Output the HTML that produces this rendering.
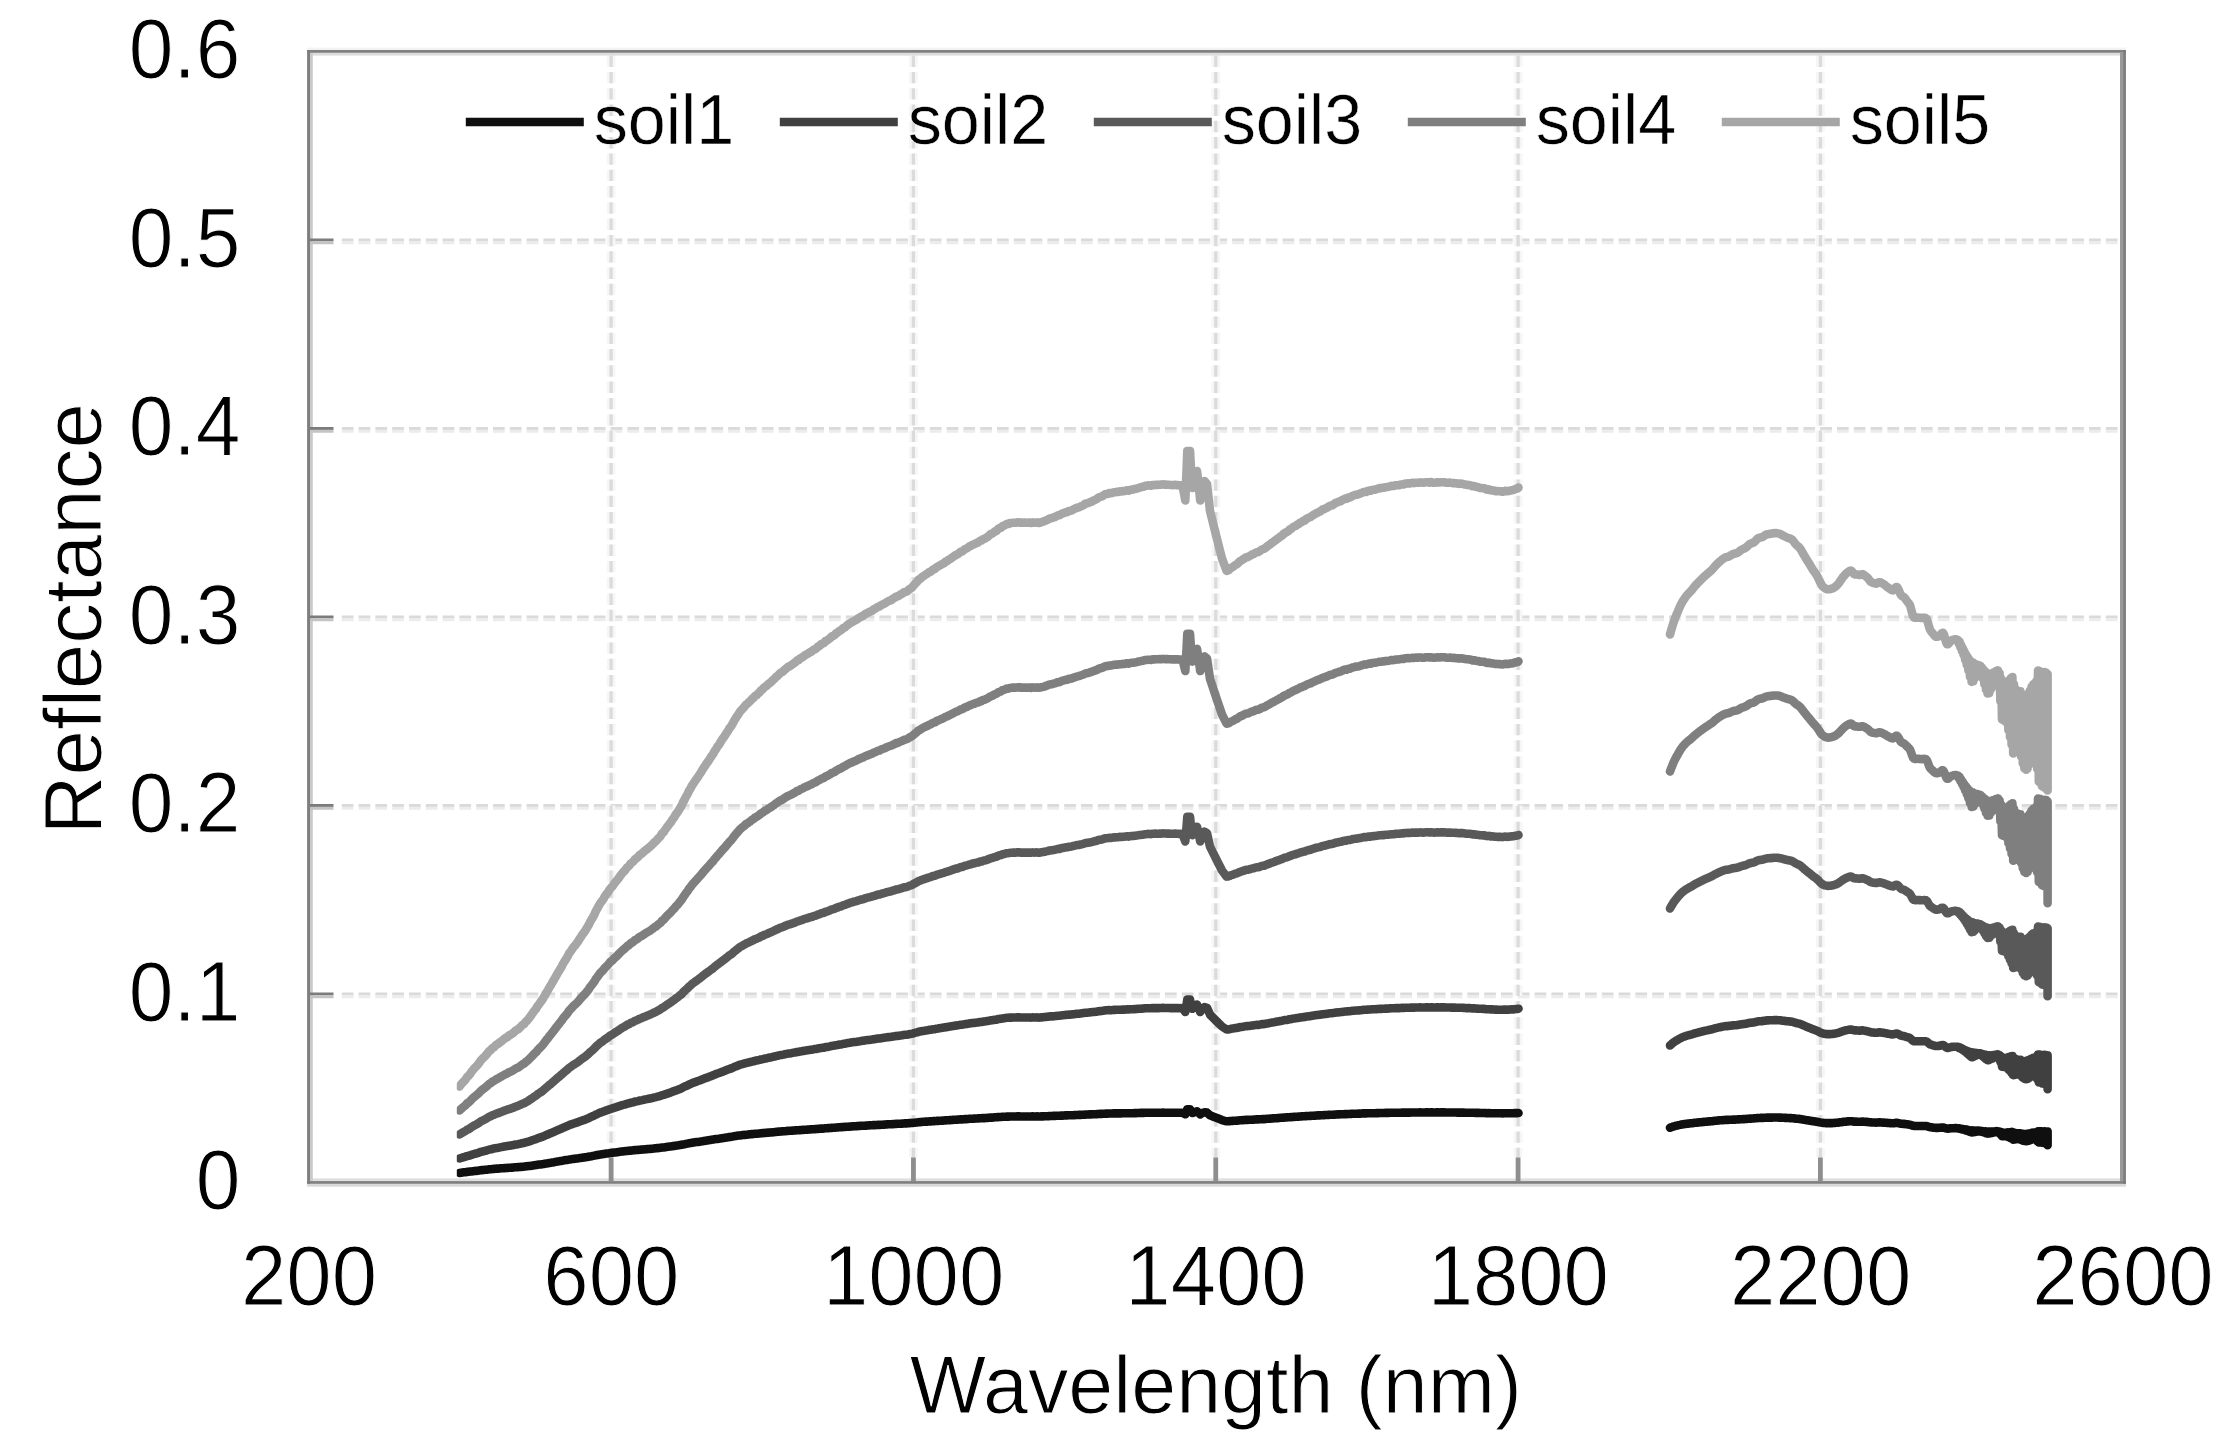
<!DOCTYPE html>
<html lang="en">
<head>
<meta charset="utf-8">
<title>Soil reflectance spectra</title>
<style>
html,body{margin:0;padding:0;background:#fff;}
body{width:2234px;height:1449px;overflow:hidden;}
svg{display:block;}
</style>
</head>
<body>
<svg width="2234" height="1449" viewBox="0 0 2234 1449">
<rect width="2234" height="1449" fill="#fff"/>
<g fill="none" stroke-dasharray="11.7 5.1">
<path d="M341.8 993.95H2120.0" stroke="#dadada" stroke-width="2.9"/>
<path d="M341.8 996.80H2120.0" stroke="#ececec" stroke-width="2.9"/>
<path d="M341.8 805.45H2120.0" stroke="#dadada" stroke-width="2.9"/>
<path d="M341.8 808.30H2120.0" stroke="#ececec" stroke-width="2.9"/>
<path d="M341.8 616.95H2120.0" stroke="#dadada" stroke-width="2.9"/>
<path d="M341.8 619.80H2120.0" stroke="#ececec" stroke-width="2.9"/>
<path d="M341.8 428.45H2120.0" stroke="#dadada" stroke-width="2.9"/>
<path d="M341.8 431.30H2120.0" stroke="#ececec" stroke-width="2.9"/>
<path d="M341.8 239.95H2120.0" stroke="#dadada" stroke-width="2.9"/>
<path d="M341.8 242.80H2120.0" stroke="#ececec" stroke-width="2.9"/>
</g>
<g fill="none" stroke-dasharray="11.4 4.9">
<path d="M611.1 55.6V1157.5" stroke="#f6f6f6" stroke-width="8.6"/>
<path d="M611.1 55.6V1157.5" stroke="#dbdbdb" stroke-width="3.3"/>
<path d="M913.4 55.6V1157.5" stroke="#f6f6f6" stroke-width="8.6"/>
<path d="M913.4 55.6V1157.5" stroke="#dbdbdb" stroke-width="3.3"/>
<path d="M1215.8 55.6V1157.5" stroke="#f6f6f6" stroke-width="8.6"/>
<path d="M1215.8 55.6V1157.5" stroke="#dbdbdb" stroke-width="3.3"/>
<path d="M1518.1 55.6V1157.5" stroke="#f6f6f6" stroke-width="8.6"/>
<path d="M1518.1 55.6V1157.5" stroke="#dbdbdb" stroke-width="3.3"/>
<path d="M1820.4 55.6V1157.5" stroke="#f6f6f6" stroke-width="8.6"/>
<path d="M1820.4 55.6V1157.5" stroke="#dbdbdb" stroke-width="3.3"/>
</g>
<clipPath id="dataclip"><rect x="456.8" y="40" width="1640" height="1150"/></clipPath>
<g fill="none" stroke-width="8.6" stroke-linejoin="round" stroke-linecap="round" clip-path="url(#dataclip)">
<path stroke="#0f0f0f" d="M459.5,1172.9 461.0,1172.7 462.5,1172.5 464.0,1172.3 465.5,1172.2 467.0,1171.9 468.5,1171.8 470.0,1171.6 471.5,1171.4 473.0,1171.2 474.5,1171.0 476.0,1170.9 477.5,1170.7 479.0,1170.5 480.5,1170.3 482.0,1170.1 483.5,1170.0 485.0,1169.8 486.5,1169.7 488.0,1169.5 489.5,1169.3 491.0,1169.2 492.5,1169.0 494.0,1168.9 495.5,1168.8 497.0,1168.6 498.5,1168.6 500.0,1168.4 501.5,1168.3 503.0,1168.2 504.5,1168.1 506.0,1168.0 507.5,1167.9 509.0,1167.7 510.5,1167.7 512.0,1167.6 513.5,1167.5 515.0,1167.3 516.5,1167.2 518.0,1167.1 519.5,1167.0 521.0,1166.9 522.5,1166.7 524.0,1166.6 525.5,1166.4 527.0,1166.3 528.5,1166.1 530.0,1165.9 531.5,1165.7 533.0,1165.5 534.5,1165.3 536.0,1165.1 537.5,1164.8 539.0,1164.6 540.5,1164.4 542.0,1164.2 543.5,1164.0 545.0,1163.7 546.5,1163.4 548.0,1163.2 549.5,1162.9 551.0,1162.7 552.5,1162.4 554.0,1162.2 555.5,1161.9 557.0,1161.6 558.5,1161.4 560.0,1161.1 561.5,1160.9 563.0,1160.6 564.5,1160.3 566.0,1160.1 567.5,1159.9 569.0,1159.6 570.5,1159.4 572.0,1159.1 573.5,1158.9 575.0,1158.8 576.5,1158.6 578.0,1158.4 579.5,1158.1 581.0,1157.9 582.5,1157.6 584.0,1157.5 585.5,1157.2 587.0,1157.0 588.5,1156.7 590.0,1156.4 591.5,1156.2 593.0,1155.9 594.5,1155.6 596.0,1155.3 597.5,1155.0 599.0,1154.7 600.5,1154.5 602.0,1154.3 603.5,1154.1 605.0,1153.8 606.5,1153.6 608.0,1153.4 609.5,1153.2 611.0,1153.0 612.5,1152.8 614.0,1152.6 615.5,1152.4 617.0,1152.2 618.5,1152.0 620.0,1151.8 621.5,1151.6 623.0,1151.4 624.5,1151.3 626.0,1151.1 627.5,1150.9 629.0,1150.8 630.5,1150.6 632.0,1150.5 633.5,1150.3 635.0,1150.1 636.5,1150.0 638.0,1149.9 639.5,1149.7 641.0,1149.6 642.5,1149.5 644.0,1149.4 645.5,1149.2 647.0,1149.1 648.5,1149.0 650.0,1148.9 651.5,1148.7 653.0,1148.6 654.5,1148.4 656.0,1148.3 657.5,1148.1 659.0,1148.0 660.5,1147.8 662.0,1147.6 663.5,1147.4 665.0,1147.2 666.5,1147.0 668.0,1146.8 669.5,1146.6 671.0,1146.4 672.5,1146.1 674.0,1146.0 675.5,1145.7 677.0,1145.5 678.5,1145.3 680.0,1145.0 681.5,1144.8 683.0,1144.4 684.5,1144.2 686.0,1143.9 687.5,1143.6 689.0,1143.3 690.5,1143.1 692.0,1142.8 693.5,1142.5 695.0,1142.3 696.5,1142.1 698.0,1141.9 699.5,1141.7 701.0,1141.4 702.5,1141.2 704.0,1140.9 705.5,1140.7 707.0,1140.5 708.5,1140.3 710.0,1140.1 711.5,1139.8 713.0,1139.6 714.5,1139.3 716.0,1139.1 717.5,1138.9 719.0,1138.7 720.5,1138.4 722.0,1138.2 723.5,1138.0 725.0,1137.8 726.5,1137.5 728.0,1137.3 729.5,1137.0 731.0,1136.9 732.5,1136.6 734.0,1136.3 735.5,1136.1 737.0,1135.8 738.5,1135.6 740.0,1135.4 741.5,1135.2 743.0,1135.0 744.5,1134.9 746.0,1134.7 747.5,1134.6 749.0,1134.4 750.5,1134.3 752.0,1134.1 753.5,1134.0 755.0,1133.8 756.5,1133.7 758.0,1133.6 759.5,1133.4 761.0,1133.2 762.5,1133.1 764.0,1133.0 765.5,1132.9 767.0,1132.8 768.5,1132.6 770.0,1132.5 771.5,1132.4 773.0,1132.2 774.5,1132.1 776.0,1131.9 777.5,1131.8 779.0,1131.6 780.5,1131.5 782.0,1131.4 783.5,1131.3 785.0,1131.2 786.5,1131.0 788.0,1130.9 789.5,1130.8 791.0,1130.7 792.5,1130.6 794.0,1130.5 795.5,1130.4 797.0,1130.3 798.5,1130.2 800.0,1130.1 801.5,1130.0 803.0,1129.9 804.5,1129.8 806.0,1129.7 807.5,1129.6 809.0,1129.5 810.5,1129.4 812.0,1129.3 813.5,1129.2 815.0,1129.1 816.5,1129.0 818.0,1128.9 819.5,1128.8 821.0,1128.6 822.5,1128.6 824.0,1128.5 825.5,1128.3 827.0,1128.3 828.5,1128.1 830.0,1128.0 831.5,1127.9 833.0,1127.8 834.5,1127.7 836.0,1127.5 837.5,1127.5 839.0,1127.3 840.5,1127.3 842.0,1127.1 843.5,1127.0 845.0,1126.9 846.5,1126.8 848.0,1126.7 849.5,1126.6 851.0,1126.5 852.5,1126.4 854.0,1126.3 855.5,1126.2 857.0,1126.1 858.5,1126.0 860.0,1125.9 861.5,1125.8 863.0,1125.8 864.5,1125.7 866.0,1125.6 867.5,1125.5 869.0,1125.4 870.5,1125.3 872.0,1125.3 873.5,1125.1 875.0,1125.1 876.5,1125.0 878.0,1124.9 879.5,1124.9 881.0,1124.7 882.5,1124.7 884.0,1124.6 885.5,1124.5 887.0,1124.4 888.5,1124.3 890.0,1124.3 891.5,1124.2 893.0,1124.1 894.5,1124.0 896.0,1123.9 897.5,1123.8 899.0,1123.8 900.5,1123.7 902.0,1123.6 903.5,1123.5 905.0,1123.4 906.5,1123.4 908.0,1123.3 909.5,1123.1 911.0,1123.0 912.5,1122.9 914.0,1122.7 915.5,1122.6 917.0,1122.4 918.5,1122.2 920.0,1122.1 921.5,1122.0 923.0,1121.8 924.5,1121.8 926.0,1121.6 927.5,1121.6 929.0,1121.4 930.5,1121.4 932.0,1121.2 933.5,1121.1 935.0,1121.1 936.5,1120.9 938.0,1120.9 939.5,1120.8 941.0,1120.7 942.5,1120.6 944.0,1120.5 945.5,1120.4 947.0,1120.3 948.5,1120.2 950.0,1120.1 951.5,1120.0 953.0,1119.9 954.5,1119.8 956.0,1119.7 957.5,1119.6 959.0,1119.5 960.5,1119.4 962.0,1119.4 963.5,1119.2 965.0,1119.1 966.5,1119.1 968.0,1119.0 969.5,1118.8 971.0,1118.8 972.5,1118.7 974.0,1118.6 975.5,1118.5 977.0,1118.5 978.5,1118.4 980.0,1118.3 981.5,1118.3 983.0,1118.1 984.5,1118.1 986.0,1118.0 987.5,1117.9 989.0,1117.8 990.5,1117.6 992.0,1117.6 993.5,1117.5 995.0,1117.3 996.5,1117.3 998.0,1117.1 999.5,1117.0 1001.0,1117.0 1002.5,1116.8 1004.0,1116.8 1005.5,1116.7 1007.0,1116.6 1008.5,1116.6 1010.0,1116.5 1011.5,1116.5 1013.0,1116.5 1014.5,1116.5 1016.0,1116.5 1017.5,1116.4 1019.0,1116.4 1020.5,1116.5 1022.0,1116.5 1023.5,1116.5 1025.0,1116.5 1026.5,1116.5 1028.0,1116.5 1029.5,1116.5 1031.0,1116.5 1032.5,1116.4 1034.0,1116.5 1035.5,1116.5 1037.0,1116.4 1038.5,1116.5 1040.0,1116.5 1041.5,1116.4 1043.0,1116.4 1044.5,1116.3 1046.0,1116.2 1047.5,1116.2 1049.0,1116.1 1050.5,1116.0 1052.0,1116.0 1053.5,1115.9 1055.0,1115.9 1056.5,1115.8 1058.0,1115.7 1059.5,1115.7 1061.0,1115.6 1062.5,1115.6 1064.0,1115.5 1065.5,1115.4 1067.0,1115.4 1068.5,1115.3 1070.0,1115.3 1071.5,1115.3 1073.0,1115.2 1074.5,1115.1 1076.0,1115.0 1077.5,1115.0 1079.0,1114.9 1080.5,1114.9 1082.0,1114.8 1083.5,1114.7 1085.0,1114.6 1086.5,1114.5 1088.0,1114.5 1089.5,1114.4 1091.0,1114.4 1092.5,1114.3 1094.0,1114.2 1095.5,1114.2 1097.0,1114.1 1098.5,1114.0 1100.0,1113.9 1101.5,1113.9 1103.0,1113.8 1104.5,1113.7 1106.0,1113.6 1107.5,1113.6 1109.0,1113.5 1110.5,1113.5 1112.0,1113.5 1113.5,1113.4 1115.0,1113.4 1116.5,1113.4 1118.0,1113.4 1119.5,1113.3 1121.0,1113.4 1122.5,1113.3 1124.0,1113.3 1125.5,1113.3 1127.0,1113.2 1128.5,1113.3 1130.0,1113.2 1131.5,1113.2 1133.0,1113.2 1134.5,1113.1 1136.0,1113.1 1137.5,1113.0 1139.0,1113.0 1140.5,1112.9 1142.0,1112.9 1143.5,1112.9 1145.0,1112.8 1146.5,1112.8 1148.0,1112.7 1149.5,1112.8 1151.0,1112.8 1152.5,1112.7 1154.0,1112.7 1155.5,1112.7 1157.0,1112.7 1158.5,1112.7 1160.0,1112.7 1161.5,1112.7 1163.0,1112.6 1164.5,1112.7 1166.0,1112.7 1167.5,1112.7 1169.0,1112.7 1170.5,1112.7 1172.0,1112.7 1173.5,1112.7 1175.0,1112.7 1176.5,1112.7 1178.0,1112.7 1179.5,1112.8 1181.0,1112.7 1183.0,1113.0 1185.3,1114.3 1186.6,1111.2 1187.3,1109.3 1190.0,1109.3 1191.0,1111.2 1192.5,1113.0 1194.5,1112.2 1197.0,1111.3 1198.8,1112.8 1200.2,1114.3 1202.2,1113.0 1204.5,1112.3 1207.0,1112.6 1208.8,1114.2 1210.0,1115.3 1213.5,1116.7 1217.0,1118.1 1222.0,1120.1 1226.6,1121.3 1228.1,1121.2 1229.6,1121.1 1231.1,1121.0 1232.6,1120.9 1234.1,1120.8 1235.6,1120.7 1237.1,1120.6 1238.6,1120.5 1240.1,1120.3 1241.6,1120.2 1243.1,1120.1 1244.6,1120.0 1246.1,1119.9 1247.6,1119.9 1249.1,1119.8 1250.6,1119.8 1252.1,1119.7 1253.6,1119.6 1255.1,1119.5 1256.6,1119.4 1258.1,1119.4 1259.6,1119.3 1261.1,1119.2 1262.6,1119.1 1264.1,1119.1 1265.6,1119.0 1267.1,1118.8 1268.6,1118.7 1270.1,1118.6 1271.6,1118.5 1273.1,1118.4 1274.6,1118.3 1276.1,1118.2 1277.6,1118.1 1279.1,1118.0 1280.6,1117.8 1282.1,1117.8 1283.6,1117.6 1285.1,1117.5 1286.6,1117.4 1288.1,1117.3 1289.6,1117.2 1291.1,1117.1 1292.6,1117.0 1294.1,1116.9 1295.6,1116.8 1297.1,1116.7 1298.6,1116.6 1300.1,1116.5 1301.6,1116.4 1303.1,1116.3 1304.6,1116.3 1306.1,1116.1 1307.6,1116.0 1309.1,1116.0 1310.6,1115.9 1312.1,1115.8 1313.6,1115.7 1315.1,1115.6 1316.6,1115.5 1318.1,1115.4 1319.6,1115.4 1321.1,1115.3 1322.6,1115.2 1324.1,1115.1 1325.6,1115.0 1327.1,1115.0 1328.6,1114.9 1330.1,1114.8 1331.6,1114.8 1333.1,1114.7 1334.6,1114.6 1336.1,1114.5 1337.6,1114.4 1339.1,1114.4 1340.6,1114.3 1342.1,1114.2 1343.6,1114.2 1345.1,1114.1 1346.6,1114.1 1348.1,1114.0 1349.6,1114.0 1351.1,1113.9 1352.6,1113.8 1354.1,1113.7 1355.6,1113.7 1357.1,1113.7 1358.6,1113.6 1360.1,1113.6 1361.6,1113.5 1363.1,1113.4 1364.6,1113.4 1366.1,1113.4 1367.6,1113.3 1369.1,1113.3 1370.6,1113.3 1372.1,1113.2 1373.6,1113.2 1375.1,1113.2 1376.6,1113.1 1378.1,1113.1 1379.6,1113.0 1381.1,1113.0 1382.6,1113.0 1384.1,1113.0 1385.6,1112.9 1387.1,1112.9 1388.6,1112.9 1390.1,1112.8 1391.6,1112.8 1393.1,1112.8 1394.6,1112.8 1396.1,1112.7 1397.6,1112.7 1399.1,1112.7 1400.6,1112.7 1402.1,1112.6 1403.6,1112.6 1405.1,1112.6 1406.6,1112.6 1408.1,1112.5 1409.6,1112.6 1411.1,1112.5 1412.6,1112.5 1414.1,1112.5 1415.6,1112.5 1417.1,1112.5 1418.6,1112.5 1420.1,1112.4 1421.6,1112.5 1423.1,1112.5 1424.6,1112.5 1426.1,1112.4 1427.6,1112.4 1429.1,1112.5 1430.6,1112.4 1432.1,1112.4 1433.6,1112.5 1435.1,1112.5 1436.6,1112.4 1438.1,1112.4 1439.6,1112.5 1441.1,1112.4 1442.6,1112.4 1444.1,1112.4 1445.6,1112.5 1447.1,1112.5 1448.6,1112.5 1450.1,1112.5 1451.6,1112.5 1453.1,1112.5 1454.6,1112.5 1456.1,1112.5 1457.6,1112.6 1459.1,1112.6 1460.6,1112.6 1462.1,1112.6 1463.6,1112.6 1465.1,1112.7 1466.6,1112.7 1468.1,1112.7 1469.6,1112.7 1471.1,1112.8 1472.6,1112.8 1474.1,1112.8 1475.6,1112.9 1477.1,1112.9 1478.6,1112.9 1480.1,1113.0 1481.6,1113.0 1483.1,1113.0 1484.6,1113.0 1486.1,1113.1 1487.6,1113.2 1489.1,1113.1 1490.6,1113.2 1492.1,1113.2 1493.6,1113.3 1495.1,1113.3 1496.6,1113.3 1498.1,1113.3 1499.6,1113.3 1501.1,1113.3 1502.6,1113.4 1504.1,1113.3 1505.6,1113.3 1507.1,1113.3 1508.6,1113.3 1510.1,1113.3 1511.6,1113.2 1513.1,1113.2 1514.6,1113.1 1516.1,1113.1 1517.6,1113.1 1518.5,1113.0"/>
<path stroke="#0f0f0f" d="M1670.0,1127.7 1671.0,1127.3 1672.0,1127.0 1673.0,1126.6 1674.0,1126.3 1675.0,1126.0 1676.0,1125.8 1677.0,1125.6 1678.0,1125.3 1679.0,1125.1 1680.0,1124.9 1681.0,1124.6 1682.0,1124.5 1683.0,1124.3 1684.0,1124.1 1685.0,1124.0 1686.0,1123.9 1687.0,1123.7 1688.0,1123.6 1689.0,1123.5 1690.0,1123.4 1691.0,1123.3 1692.0,1123.2 1693.0,1123.1 1694.0,1122.9 1695.0,1122.8 1696.0,1122.7 1697.0,1122.6 1698.0,1122.5 1699.0,1122.4 1700.0,1122.3 1701.0,1122.2 1702.0,1122.1 1703.0,1122.0 1704.0,1121.9 1705.0,1121.8 1706.0,1121.7 1707.0,1121.6 1708.0,1121.5 1709.0,1121.4 1710.0,1121.4 1711.0,1121.3 1712.0,1121.2 1713.0,1121.1 1714.0,1120.9 1715.0,1120.8 1716.0,1120.7 1717.0,1120.6 1718.0,1120.5 1719.0,1120.4 1720.0,1120.3 1721.0,1120.3 1722.0,1120.2 1723.0,1120.1 1724.0,1120.0 1725.0,1120.0 1726.0,1119.9 1727.0,1119.9 1728.0,1119.9 1729.0,1119.8 1730.0,1119.8 1731.0,1119.7 1732.0,1119.7 1733.0,1119.6 1734.0,1119.6 1735.0,1119.6 1736.0,1119.5 1737.0,1119.5 1738.0,1119.4 1739.0,1119.4 1740.0,1119.3 1741.0,1119.2 1742.0,1119.2 1743.0,1119.1 1744.0,1119.1 1745.0,1119.0 1746.0,1119.0 1747.0,1118.9 1748.0,1118.8 1749.0,1118.7 1750.0,1118.6 1751.0,1118.6 1752.0,1118.5 1753.0,1118.5 1754.0,1118.4 1755.0,1118.3 1756.0,1118.2 1757.0,1118.1 1758.0,1118.0 1759.0,1118.0 1760.0,1118.0 1761.0,1117.9 1762.0,1117.9 1763.0,1117.9 1764.0,1117.8 1765.0,1117.7 1766.0,1117.7 1767.0,1117.6 1768.0,1117.6 1769.0,1117.6 1770.0,1117.6 1771.0,1117.6 1772.0,1117.6 1773.0,1117.5 1774.0,1117.5 1775.0,1117.5 1776.0,1117.5 1777.0,1117.5 1778.0,1117.5 1779.0,1117.6 1780.0,1117.6 1781.0,1117.6 1782.0,1117.7 1783.0,1117.8 1784.0,1117.8 1785.0,1117.9 1786.0,1117.9 1787.0,1118.0 1788.0,1118.0 1789.0,1118.0 1790.0,1118.1 1791.0,1118.1 1792.0,1118.2 1793.0,1118.3 1794.0,1118.4 1795.0,1118.5 1796.0,1118.7 1797.0,1118.8 1798.0,1118.8 1799.0,1118.9 1800.0,1119.0 1801.0,1119.2 1802.0,1119.4 1803.0,1119.5 1804.0,1119.7 1805.0,1119.9 1806.0,1120.1 1807.0,1120.2 1808.0,1120.4 1809.0,1120.5 1810.0,1120.7 1811.0,1120.9 1812.0,1121.0 1813.0,1121.2 1814.0,1121.3 1815.0,1121.5 1816.0,1121.6 1817.0,1121.8 1818.0,1122.0 1819.0,1122.2 1820.0,1122.4 1821.0,1122.6 1822.0,1122.8 1823.0,1122.9 1824.0,1123.0 1825.0,1123.0 1826.0,1123.1 1827.0,1123.1 1828.0,1123.1 1829.0,1123.1 1830.0,1123.1 1831.0,1123.1 1832.0,1123.1 1833.0,1123.0 1834.0,1123.0 1835.0,1122.9 1836.0,1122.8 1837.0,1122.7 1838.0,1122.6 1839.0,1122.5 1840.0,1122.3 1841.0,1122.2 1842.0,1122.1 1843.0,1121.9 1844.0,1121.8 1845.0,1121.7 1846.0,1121.6 1847.0,1121.5 1848.0,1121.4 1849.0,1121.3 1850.0,1121.3 1851.0,1121.3 1852.0,1121.3 1853.0,1121.5 1854.0,1121.6 1855.0,1121.6 1856.0,1121.6 1857.0,1121.7 1858.0,1121.7 1859.0,1121.7 1860.0,1121.7 1861.0,1121.7 1862.0,1121.6 1863.0,1121.6 1864.0,1121.7 1865.0,1121.8 1866.0,1121.9 1867.0,1121.9 1868.0,1122.0 1869.0,1122.2 1870.0,1122.3 1871.0,1122.4 1872.0,1122.5 1873.0,1122.5 1874.0,1122.5 1875.0,1122.5 1876.0,1122.6 1877.0,1122.5 1878.0,1122.5 1879.0,1122.4 1880.0,1122.4 1881.0,1122.5 1882.0,1122.5 1883.0,1122.6 1884.0,1122.6 1885.0,1122.7 1886.0,1122.8 1887.0,1122.9 1888.0,1123.0 1889.0,1123.0 1890.0,1123.1 1891.0,1123.2 1892.0,1123.2 1893.0,1123.2 1894.0,1123.2 1895.0,1123.0 1896.0,1122.9 1897.0,1122.9 1898.0,1123.0 1899.0,1123.3 1900.0,1123.5 1901.0,1123.7 1902.0,1123.8 1903.0,1123.9 1904.0,1123.9 1905.0,1124.0 1906.0,1124.2 1907.0,1124.3 1908.0,1124.4 1909.0,1124.6 1910.0,1124.7 1911.0,1125.1 1912.0,1125.5 1913.0,1125.8 1914.0,1125.9 1915.0,1126.0 1916.0,1126.0 1917.0,1126.0 1918.0,1126.0 1919.0,1126.0 1920.0,1126.0 1921.0,1126.0 1922.0,1126.0 1923.0,1126.0 1924.0,1126.0 1925.0,1126.0 1926.0,1126.0 1927.0,1126.2 1928.0,1126.5 1929.0,1126.9 1930.0,1127.2 1931.0,1127.3 1932.0,1127.4 1933.0,1127.6 1934.0,1127.7 1935.0,1127.8 1936.0,1127.9 1937.0,1127.9 1938.0,1127.9 1939.0,1127.8 1940.0,1127.7 1941.0,1127.6 1942.0,1127.5 1943.0,1127.5 1944.0,1127.7 1945.0,1128.0 1946.0,1128.4 1947.0,1128.6 1948.0,1128.6 1949.0,1128.5 1950.0,1128.4 1951.0,1128.3 1952.0,1128.2 1953.0,1128.2 1954.0,1128.2 1955.0,1128.1 1956.0,1128.1 1957.0,1128.2 1958.0,1128.2 1958.8,1128.6 1959.6,1128.4 1960.4,1128.9 1961.2,1128.7 1962.0,1129.3 1962.8,1129.0 1963.6,1129.7 1964.4,1129.4 1965.2,1130.2 1966.0,1129.6 1966.8,1130.7 1967.6,1129.9 1968.4,1131.3 1969.2,1130.2 1970.0,1131.9 1970.8,1130.4 1971.6,1132.4 1972.4,1130.4 1973.2,1132.3 1974.0,1130.6 1974.8,1132.0 1975.6,1130.6 1976.4,1131.6 1977.2,1130.7 1978.0,1131.4 1978.8,1130.7 1979.6,1131.2 1980.4,1130.8 1981.2,1131.6 1982.0,1131.0 1982.8,1132.1 1983.6,1131.2 1984.4,1132.6 1985.2,1131.4 1986.0,1133.2 1986.8,1131.5 1987.6,1133.6 1988.4,1131.6 1989.2,1133.5 1990.0,1131.7 1990.8,1133.1 1991.6,1131.6 1992.4,1132.9 1993.2,1131.5 1994.0,1132.5 1994.8,1131.4 1995.6,1132.2 1996.4,1131.3 1997.2,1131.9 1998.0,1131.2 1998.8,1132.9 1999.6,1131.5 2000.4,1134.3 2001.2,1132.1 2002.0,1136.1 2002.8,1132.6 2003.6,1136.2 2004.4,1132.8 2005.2,1136.1 2006.0,1132.7 2006.8,1136.5 2007.6,1132.4 2008.4,1137.2 2009.2,1132.2 2010.0,1137.9 2010.8,1132.0 2011.6,1138.7 2012.4,1131.9 2013.2,1139.6 2014.0,1132.7 2014.8,1139.4 2015.6,1133.1 2016.4,1139.2 2017.2,1133.3 2018.0,1139.0 2018.8,1133.3 2019.6,1139.4 2020.4,1133.3 2021.2,1139.9 2022.0,1133.8 2022.8,1140.6 2023.6,1134.0 2024.4,1141.0 2025.2,1134.0 2026.0,1141.2 2026.8,1133.7 2027.6,1141.0 2028.4,1133.5 2029.2,1140.6 2030.0,1133.2 2030.8,1140.0 2031.6,1132.9 2032.4,1139.2 2033.2,1132.6 2034.0,1138.5 2034.8,1132.6 2035.6,1138.8 2036.4,1132.3 2037.2,1141.1 2038.0,1131.3 2038.8,1142.4 2039.6,1131.3 2040.4,1142.5 2041.2,1131.4 2042.0,1142.8 2042.8,1131.6 2043.6,1142.9 2044.4,1131.4 2045.2,1142.8 2046.0,1131.5 2046.8,1143.2 2047.6,1131.6 2047.6,1145.2"/>
<path stroke="#404040" d="M459.5,1158.5 461.0,1158.0 462.5,1157.5 464.0,1157.1 465.5,1156.7 467.0,1156.1 468.5,1155.8 470.0,1155.4 471.5,1154.8 473.0,1154.3 474.5,1153.9 476.0,1153.5 477.5,1153.1 479.0,1152.6 480.5,1152.0 482.0,1151.6 483.5,1151.3 485.0,1150.9 486.5,1150.5 488.0,1150.0 489.5,1149.5 491.0,1149.3 492.5,1148.8 494.0,1148.6 495.5,1148.2 497.0,1147.9 498.5,1147.7 500.0,1147.4 501.5,1147.1 503.0,1146.8 504.5,1146.5 506.0,1146.3 507.5,1146.1 509.0,1145.7 510.5,1145.6 512.0,1145.3 513.5,1145.0 515.0,1144.6 516.5,1144.4 518.0,1144.2 519.5,1143.8 521.0,1143.5 522.5,1143.1 524.0,1142.9 525.5,1142.4 527.0,1142.0 528.5,1141.6 530.0,1141.1 531.5,1140.6 533.0,1140.0 534.5,1139.5 536.0,1139.1 537.5,1138.4 539.0,1137.9 540.5,1137.4 542.0,1136.9 543.5,1136.3 545.0,1135.6 546.5,1134.9 548.0,1134.4 549.5,1133.6 551.0,1133.1 552.5,1132.4 554.0,1131.8 555.5,1131.1 557.0,1130.4 558.5,1129.8 560.0,1129.2 561.5,1128.6 563.0,1127.8 564.5,1127.2 566.0,1126.6 567.5,1126.0 569.0,1125.2 570.5,1124.7 572.0,1124.2 573.5,1123.6 575.0,1123.2 576.5,1122.7 578.0,1122.2 579.5,1121.6 581.0,1121.0 582.5,1120.4 584.0,1120.0 585.5,1119.4 587.0,1118.8 588.5,1118.2 590.0,1117.4 591.5,1116.7 593.0,1116.1 594.5,1115.4 596.0,1114.5 597.5,1113.9 599.0,1113.2 600.5,1112.5 602.0,1112.1 603.5,1111.5 605.0,1110.9 606.5,1110.4 608.0,1109.9 609.5,1109.3 611.0,1108.8 612.5,1108.4 614.0,1107.8 615.5,1107.4 617.0,1106.9 618.5,1106.4 620.0,1105.9 621.5,1105.4 623.0,1104.9 624.5,1104.6 626.0,1104.1 627.5,1103.6 629.0,1103.3 630.5,1102.8 632.0,1102.5 633.5,1102.2 635.0,1101.6 636.5,1101.4 638.0,1101.1 639.5,1100.6 641.0,1100.4 642.5,1100.1 644.0,1099.7 645.5,1099.4 647.0,1099.1 648.5,1098.8 650.0,1098.5 651.5,1098.2 653.0,1097.8 654.5,1097.4 656.0,1097.1 657.5,1096.7 659.0,1096.3 660.5,1095.9 662.0,1095.2 663.5,1094.9 665.0,1094.3 666.5,1093.8 668.0,1093.3 669.5,1092.8 671.0,1092.3 672.5,1091.7 674.0,1091.2 675.5,1090.6 677.0,1090.1 678.5,1089.5 680.0,1088.9 681.5,1088.3 683.0,1087.4 684.5,1086.7 686.0,1086.0 687.5,1085.4 689.0,1084.6 690.5,1084.0 692.0,1083.2 693.5,1082.7 695.0,1082.1 696.5,1081.6 698.0,1081.0 699.5,1080.5 701.0,1079.9 702.5,1079.3 704.0,1078.7 705.5,1078.1 707.0,1077.6 708.5,1077.1 710.0,1076.5 711.5,1075.9 713.0,1075.4 714.5,1074.7 716.0,1074.1 717.5,1073.5 719.0,1073.0 720.5,1072.4 722.0,1071.8 723.5,1071.3 725.0,1070.7 726.5,1070.1 728.0,1069.5 729.5,1068.9 731.0,1068.5 732.5,1067.8 734.0,1067.1 735.5,1066.5 737.0,1065.9 738.5,1065.4 740.0,1064.7 741.5,1064.3 743.0,1063.9 744.5,1063.5 746.0,1063.0 747.5,1062.7 749.0,1062.3 750.5,1062.0 752.0,1061.6 753.5,1061.3 755.0,1060.8 756.5,1060.6 758.0,1060.2 759.5,1059.9 761.0,1059.4 762.5,1059.2 764.0,1058.8 765.5,1058.5 767.0,1058.2 768.5,1057.8 770.0,1057.5 771.5,1057.2 773.0,1056.8 774.5,1056.5 776.0,1056.1 777.5,1055.8 779.0,1055.4 780.5,1055.1 782.0,1054.9 783.5,1054.6 785.0,1054.2 786.5,1053.9 788.0,1053.6 789.5,1053.4 791.0,1053.2 792.5,1052.9 794.0,1052.6 795.5,1052.4 797.0,1052.0 798.5,1051.9 800.0,1051.5 801.5,1051.3 803.0,1051.0 804.5,1050.7 806.0,1050.5 807.5,1050.3 809.0,1050.1 810.5,1049.8 812.0,1049.7 813.5,1049.3 815.0,1049.1 816.5,1048.9 818.0,1048.5 819.5,1048.3 821.0,1047.9 822.5,1047.7 824.0,1047.6 825.5,1047.1 827.0,1047.0 828.5,1046.7 830.0,1046.4 831.5,1046.0 833.0,1045.8 834.5,1045.6 836.0,1045.2 837.5,1045.0 839.0,1044.6 840.5,1044.5 842.0,1044.2 843.5,1043.8 845.0,1043.7 846.5,1043.3 848.0,1043.0 849.5,1042.8 851.0,1042.5 852.5,1042.3 854.0,1042.1 855.5,1041.9 857.0,1041.7 858.5,1041.4 860.0,1041.2 861.5,1040.9 863.0,1040.8 864.5,1040.5 866.0,1040.3 867.5,1040.1 869.0,1039.9 870.5,1039.7 872.0,1039.5 873.5,1039.2 875.0,1039.1 876.5,1038.8 878.0,1038.5 879.5,1038.5 881.0,1038.2 882.5,1038.0 884.0,1037.8 885.5,1037.6 887.0,1037.3 888.5,1037.1 890.0,1037.0 891.5,1036.8 893.0,1036.5 894.5,1036.3 896.0,1036.0 897.5,1035.9 899.0,1035.7 900.5,1035.5 902.0,1035.3 903.5,1035.0 905.0,1034.8 906.5,1034.7 908.0,1034.5 909.5,1034.1 911.0,1033.9 912.5,1033.6 914.0,1033.1 915.5,1032.7 917.0,1032.3 918.5,1031.8 920.0,1031.6 921.5,1031.2 923.0,1030.9 924.5,1030.7 926.0,1030.4 927.5,1030.2 929.0,1029.9 930.5,1029.8 932.0,1029.4 933.5,1029.2 935.0,1029.1 936.5,1028.7 938.0,1028.5 939.5,1028.2 941.0,1028.0 942.5,1027.8 944.0,1027.6 945.5,1027.2 947.0,1027.1 948.5,1026.8 950.0,1026.6 951.5,1026.3 953.0,1026.1 954.5,1025.8 956.0,1025.5 957.5,1025.4 959.0,1025.1 960.5,1024.8 962.0,1024.7 963.5,1024.4 965.0,1024.1 966.5,1024.0 968.0,1023.7 969.5,1023.4 971.0,1023.3 972.5,1023.0 974.0,1022.9 975.5,1022.7 977.0,1022.5 978.5,1022.4 980.0,1022.0 981.5,1022.0 983.0,1021.6 984.5,1021.5 986.0,1021.3 987.5,1021.1 989.0,1020.7 990.5,1020.4 992.0,1020.3 993.5,1020.0 995.0,1019.7 996.5,1019.6 998.0,1019.1 999.5,1018.9 1001.0,1018.8 1002.5,1018.4 1004.0,1018.2 1005.5,1018.0 1007.0,1017.8 1008.5,1017.8 1010.0,1017.6 1011.5,1017.6 1013.0,1017.5 1014.5,1017.5 1016.0,1017.5 1017.5,1017.4 1019.0,1017.4 1020.5,1017.5 1022.0,1017.5 1023.5,1017.5 1025.0,1017.5 1026.5,1017.5 1028.0,1017.5 1029.5,1017.5 1031.0,1017.6 1032.5,1017.4 1034.0,1017.5 1035.5,1017.5 1037.0,1017.4 1038.5,1017.6 1040.0,1017.5 1041.5,1017.4 1043.0,1017.3 1044.5,1017.1 1046.0,1016.9 1047.5,1016.8 1049.0,1016.5 1050.5,1016.4 1052.0,1016.4 1053.5,1016.2 1055.0,1016.1 1056.5,1015.9 1058.0,1015.7 1059.5,1015.7 1061.0,1015.4 1062.5,1015.2 1064.0,1015.1 1065.5,1014.9 1067.0,1014.9 1068.5,1014.6 1070.0,1014.6 1071.5,1014.5 1073.0,1014.2 1074.5,1014.1 1076.0,1013.9 1077.5,1013.8 1079.0,1013.7 1080.5,1013.5 1082.0,1013.3 1083.5,1013.1 1085.0,1012.8 1086.5,1012.7 1088.0,1012.6 1089.5,1012.4 1091.0,1012.3 1092.5,1012.1 1094.0,1011.9 1095.5,1011.7 1097.0,1011.6 1098.5,1011.2 1100.0,1011.1 1101.5,1011.0 1103.0,1010.8 1104.5,1010.5 1106.0,1010.3 1107.5,1010.3 1109.0,1010.1 1110.5,1010.2 1112.0,1010.1 1113.5,1009.9 1115.0,1009.9 1116.5,1009.8 1118.0,1009.8 1119.5,1009.7 1121.0,1009.7 1122.5,1009.6 1124.0,1009.6 1125.5,1009.5 1127.0,1009.4 1128.5,1009.5 1130.0,1009.3 1131.5,1009.2 1133.0,1009.2 1134.5,1009.1 1136.0,1009.0 1137.5,1008.9 1139.0,1008.8 1140.5,1008.7 1142.0,1008.6 1143.5,1008.5 1145.0,1008.3 1146.5,1008.3 1148.0,1008.2 1149.5,1008.2 1151.0,1008.3 1152.5,1008.1 1154.0,1008.1 1155.5,1008.0 1157.0,1008.1 1158.5,1008.1 1160.0,1008.0 1161.5,1008.0 1163.0,1007.9 1164.5,1008.0 1166.0,1008.0 1167.5,1008.0 1169.0,1008.0 1170.5,1008.1 1172.0,1008.1 1173.5,1008.1 1175.0,1008.0 1176.5,1008.1 1178.0,1008.1 1179.5,1008.2 1181.0,1008.1 1183.0,1008.8 1185.3,1012.0 1186.6,1004.3 1187.3,999.6 1190.0,999.6 1191.0,1004.3 1192.5,1008.8 1194.5,1006.8 1197.0,1004.6 1198.8,1008.3 1200.2,1012.0 1202.2,1008.8 1204.5,1007.1 1207.0,1007.8 1208.8,1011.8 1210.0,1014.6 1213.5,1018.1 1217.0,1021.6 1222.0,1026.5 1226.6,1029.5 1228.1,1029.4 1229.6,1029.2 1231.1,1028.8 1232.6,1028.6 1234.1,1028.3 1235.6,1028.0 1237.1,1027.9 1238.6,1027.5 1240.1,1027.1 1241.6,1026.9 1243.1,1026.7 1244.6,1026.4 1246.1,1026.1 1247.6,1026.1 1249.1,1025.9 1250.6,1025.7 1252.1,1025.5 1253.6,1025.4 1255.1,1025.1 1256.6,1024.9 1258.1,1024.9 1259.6,1024.7 1261.1,1024.3 1262.6,1024.1 1264.1,1024.1 1265.6,1023.8 1267.1,1023.4 1268.6,1023.2 1270.1,1022.9 1271.6,1022.6 1273.1,1022.4 1274.6,1022.1 1276.1,1021.8 1277.6,1021.5 1279.1,1021.3 1280.6,1020.9 1282.1,1020.7 1283.6,1020.3 1285.1,1020.1 1286.6,1019.9 1288.1,1019.7 1289.6,1019.2 1291.1,1019.1 1292.6,1018.7 1294.1,1018.5 1295.6,1018.3 1297.1,1018.0 1298.6,1017.9 1300.1,1017.5 1301.6,1017.4 1303.1,1017.1 1304.6,1017.0 1306.1,1016.6 1307.6,1016.4 1309.1,1016.2 1310.6,1016.1 1312.1,1015.8 1313.6,1015.6 1315.1,1015.3 1316.6,1015.1 1318.1,1014.9 1319.6,1014.8 1321.1,1014.5 1322.6,1014.2 1324.1,1014.1 1325.6,1013.9 1327.1,1013.7 1328.6,1013.5 1330.1,1013.3 1331.6,1013.2 1333.1,1013.0 1334.6,1012.8 1336.1,1012.5 1337.6,1012.4 1339.1,1012.2 1340.6,1012.1 1342.1,1011.9 1343.6,1011.7 1345.1,1011.5 1346.6,1011.5 1348.1,1011.2 1349.6,1011.2 1351.1,1011.0 1352.6,1010.8 1354.1,1010.7 1355.6,1010.5 1357.1,1010.5 1358.6,1010.4 1360.1,1010.2 1361.6,1010.1 1363.1,1009.9 1364.6,1009.8 1366.1,1009.8 1367.6,1009.6 1369.1,1009.5 1370.6,1009.5 1372.1,1009.3 1373.6,1009.3 1375.1,1009.2 1376.6,1009.1 1378.1,1009.0 1379.6,1008.9 1381.1,1008.9 1382.6,1008.8 1384.1,1008.8 1385.6,1008.6 1387.1,1008.6 1388.6,1008.5 1390.1,1008.4 1391.6,1008.3 1393.1,1008.3 1394.6,1008.3 1396.1,1008.1 1397.6,1008.1 1399.1,1008.1 1400.6,1008.0 1402.1,1007.9 1403.6,1007.9 1405.1,1007.7 1406.6,1007.7 1408.1,1007.7 1409.6,1007.7 1411.1,1007.6 1412.6,1007.5 1414.1,1007.6 1415.6,1007.5 1417.1,1007.5 1418.6,1007.5 1420.1,1007.4 1421.6,1007.5 1423.1,1007.5 1424.6,1007.5 1426.1,1007.4 1427.6,1007.4 1429.1,1007.5 1430.6,1007.4 1432.1,1007.4 1433.6,1007.5 1435.1,1007.5 1436.6,1007.4 1438.1,1007.4 1439.6,1007.5 1441.1,1007.4 1442.6,1007.4 1444.1,1007.4 1445.6,1007.5 1447.1,1007.5 1448.6,1007.5 1450.1,1007.5 1451.6,1007.6 1453.1,1007.6 1454.6,1007.6 1456.1,1007.7 1457.6,1007.7 1459.1,1007.8 1460.6,1007.7 1462.1,1007.8 1463.6,1007.9 1465.1,1008.0 1466.6,1008.1 1468.1,1008.1 1469.6,1008.1 1471.1,1008.2 1472.6,1008.4 1474.1,1008.4 1475.6,1008.5 1477.1,1008.6 1478.6,1008.7 1480.1,1008.8 1481.6,1008.8 1483.1,1008.9 1484.6,1008.9 1486.1,1009.2 1487.6,1009.3 1489.1,1009.2 1490.6,1009.4 1492.1,1009.4 1493.6,1009.5 1495.1,1009.6 1496.6,1009.6 1498.1,1009.7 1499.6,1009.7 1501.1,1009.7 1502.6,1009.8 1504.1,1009.6 1505.6,1009.5 1507.1,1009.7 1508.6,1009.6 1510.1,1009.5 1511.6,1009.4 1513.1,1009.4 1514.6,1009.2 1516.1,1009.0 1517.6,1009.0 1518.5,1008.7"/>
<path stroke="#404040" d="M1670.0,1045.5 1671.0,1044.6 1672.0,1043.7 1673.0,1042.9 1674.0,1042.1 1675.0,1041.4 1676.0,1040.8 1677.0,1040.2 1678.0,1039.6 1679.0,1039.0 1680.0,1038.5 1681.0,1037.9 1682.0,1037.5 1683.0,1037.0 1684.0,1036.7 1685.0,1036.3 1686.0,1036.0 1687.0,1035.6 1688.0,1035.4 1689.0,1035.1 1690.0,1034.8 1691.0,1034.6 1692.0,1034.3 1693.0,1034.0 1694.0,1033.6 1695.0,1033.3 1696.0,1033.1 1697.0,1032.8 1698.0,1032.5 1699.0,1032.3 1700.0,1032.0 1701.0,1031.8 1702.0,1031.5 1703.0,1031.3 1704.0,1031.0 1705.0,1030.8 1706.0,1030.6 1707.0,1030.4 1708.0,1030.2 1709.0,1029.9 1710.0,1029.7 1711.0,1029.5 1712.0,1029.3 1713.0,1029.0 1714.0,1028.7 1715.0,1028.4 1716.0,1028.1 1717.0,1027.9 1718.0,1027.6 1719.0,1027.4 1720.0,1027.2 1721.0,1027.0 1722.0,1026.8 1723.0,1026.6 1724.0,1026.4 1725.0,1026.2 1726.0,1026.1 1727.0,1026.1 1728.0,1026.0 1729.0,1025.9 1730.0,1025.8 1731.0,1025.6 1732.0,1025.5 1733.0,1025.4 1734.0,1025.3 1735.0,1025.2 1736.0,1025.2 1737.0,1025.1 1738.0,1024.9 1739.0,1024.8 1740.0,1024.5 1741.0,1024.4 1742.0,1024.2 1743.0,1024.1 1744.0,1024.0 1745.0,1023.9 1746.0,1023.7 1747.0,1023.5 1748.0,1023.2 1749.0,1023.0 1750.0,1022.8 1751.0,1022.7 1752.0,1022.6 1753.0,1022.5 1754.0,1022.4 1755.0,1022.2 1756.0,1021.9 1757.0,1021.6 1758.0,1021.4 1759.0,1021.3 1760.0,1021.2 1761.0,1021.2 1762.0,1021.1 1763.0,1021.0 1764.0,1020.8 1765.0,1020.7 1766.0,1020.5 1767.0,1020.4 1768.0,1020.4 1769.0,1020.3 1770.0,1020.3 1771.0,1020.3 1772.0,1020.2 1773.0,1020.2 1774.0,1020.1 1775.0,1020.1 1776.0,1020.1 1777.0,1020.1 1778.0,1020.2 1779.0,1020.2 1780.0,1020.3 1781.0,1020.4 1782.0,1020.6 1783.0,1020.7 1784.0,1020.8 1785.0,1021.0 1786.0,1021.1 1787.0,1021.2 1788.0,1021.3 1789.0,1021.4 1790.0,1021.5 1791.0,1021.6 1792.0,1021.7 1793.0,1022.0 1794.0,1022.3 1795.0,1022.7 1796.0,1023.0 1797.0,1023.2 1798.0,1023.4 1799.0,1023.6 1800.0,1023.9 1801.0,1024.3 1802.0,1024.7 1803.0,1025.2 1804.0,1025.6 1805.0,1026.0 1806.0,1026.5 1807.0,1026.9 1808.0,1027.3 1809.0,1027.7 1810.0,1028.1 1811.0,1028.5 1812.0,1028.9 1813.0,1029.3 1814.0,1029.7 1815.0,1030.0 1816.0,1030.4 1817.0,1030.8 1818.0,1031.2 1819.0,1031.8 1820.0,1032.3 1821.0,1032.8 1822.0,1033.2 1823.0,1033.5 1824.0,1033.7 1825.0,1033.9 1826.0,1034.0 1827.0,1034.1 1828.0,1034.2 1829.0,1034.1 1830.0,1034.1 1831.0,1034.0 1832.0,1034.0 1833.0,1033.9 1834.0,1033.7 1835.0,1033.6 1836.0,1033.4 1837.0,1033.1 1838.0,1032.9 1839.0,1032.6 1840.0,1032.2 1841.0,1031.8 1842.0,1031.5 1843.0,1031.1 1844.0,1030.8 1845.0,1030.5 1846.0,1030.3 1847.0,1030.1 1848.0,1029.9 1849.0,1029.7 1850.0,1029.5 1851.0,1029.5 1852.0,1029.7 1853.0,1030.0 1854.0,1030.3 1855.0,1030.4 1856.0,1030.4 1857.0,1030.5 1858.0,1030.5 1859.0,1030.6 1860.0,1030.6 1861.0,1030.5 1862.0,1030.4 1863.0,1030.4 1864.0,1030.6 1865.0,1030.8 1866.0,1031.0 1867.0,1031.2 1868.0,1031.4 1869.0,1031.7 1870.0,1032.1 1871.0,1032.3 1872.0,1032.5 1873.0,1032.5 1874.0,1032.6 1875.0,1032.7 1876.0,1032.7 1877.0,1032.7 1878.0,1032.5 1879.0,1032.4 1880.0,1032.4 1881.0,1032.5 1882.0,1032.6 1883.0,1032.8 1884.0,1032.9 1885.0,1033.1 1886.0,1033.3 1887.0,1033.5 1888.0,1033.7 1889.0,1033.9 1890.0,1034.1 1891.0,1034.3 1892.0,1034.4 1893.0,1034.4 1894.0,1034.2 1895.0,1033.9 1896.0,1033.6 1897.0,1033.6 1898.0,1033.9 1899.0,1034.5 1900.0,1035.1 1901.0,1035.6 1902.0,1035.8 1903.0,1036.0 1904.0,1036.1 1905.0,1036.4 1906.0,1036.8 1907.0,1037.1 1908.0,1037.4 1909.0,1037.7 1910.0,1038.2 1911.0,1039.0 1912.0,1040.0 1913.0,1040.8 1914.0,1041.2 1915.0,1041.3 1916.0,1041.3 1917.0,1041.2 1918.0,1041.2 1919.0,1041.3 1920.0,1041.3 1921.0,1041.3 1922.0,1041.3 1923.0,1041.3 1924.0,1041.3 1925.0,1041.3 1926.0,1041.4 1927.0,1041.8 1928.0,1042.6 1929.0,1043.5 1930.0,1044.3 1931.0,1044.6 1932.0,1044.9 1933.0,1045.3 1934.0,1045.6 1935.0,1045.9 1936.0,1046.0 1937.0,1046.0 1938.0,1046.0 1939.0,1045.9 1940.0,1045.7 1941.0,1045.3 1942.0,1045.1 1943.0,1045.1 1944.0,1045.5 1945.0,1046.4 1946.0,1047.3 1947.0,1047.9 1948.0,1047.9 1949.0,1047.6 1950.0,1047.3 1951.0,1047.0 1952.0,1046.9 1953.0,1046.8 1954.0,1046.7 1955.0,1046.7 1956.0,1046.7 1957.0,1046.8 1958.0,1046.9 1958.8,1047.8 1959.6,1047.2 1960.4,1048.7 1961.2,1048.1 1962.0,1049.6 1962.8,1048.9 1963.6,1050.6 1964.4,1049.7 1965.2,1051.8 1966.0,1050.4 1966.8,1053.1 1967.6,1051.1 1968.4,1054.5 1969.2,1051.7 1970.0,1056.0 1970.8,1052.2 1971.6,1057.3 1972.4,1052.4 1973.2,1057.1 1974.0,1052.7 1974.8,1056.3 1975.6,1052.9 1976.4,1055.4 1977.2,1053.0 1978.0,1054.8 1978.8,1053.2 1979.6,1054.3 1980.4,1053.3 1981.2,1055.3 1982.0,1053.8 1982.8,1056.5 1983.6,1054.3 1984.4,1057.9 1985.2,1054.7 1986.0,1059.3 1986.8,1055.1 1987.6,1060.2 1988.4,1055.2 1989.2,1060.1 1990.0,1055.6 1990.8,1059.2 1991.6,1055.3 1992.4,1058.5 1993.2,1055.0 1994.0,1057.6 1994.8,1054.8 1995.6,1056.9 1996.4,1054.5 1997.2,1056.1 1998.0,1054.4 1998.8,1058.6 1999.6,1055.1 2000.4,1062.1 2001.2,1056.5 2002.0,1066.7 2002.8,1057.7 2003.6,1066.9 2004.4,1058.2 2005.2,1066.7 2006.0,1058.0 2006.8,1067.6 2007.6,1057.3 2008.4,1069.4 2009.2,1056.9 2010.0,1071.1 2010.8,1056.4 2011.6,1073.0 2012.4,1056.1 2013.2,1075.2 2014.0,1058.0 2014.8,1074.9 2015.6,1059.1 2016.4,1074.4 2017.2,1059.5 2018.0,1073.7 2018.8,1059.7 2019.6,1074.7 2020.4,1059.7 2021.2,1076.0 2022.0,1060.7 2022.8,1077.7 2023.6,1061.3 2024.4,1078.9 2025.2,1061.2 2026.0,1079.3 2026.8,1060.6 2027.6,1078.9 2028.4,1060.1 2029.2,1077.9 2030.0,1059.4 2030.8,1076.3 2031.6,1058.5 2032.4,1074.4 2033.2,1057.9 2034.0,1072.5 2034.8,1057.8 2035.6,1073.2 2036.4,1057.1 2037.2,1079.1 2038.0,1054.5 2038.8,1082.3 2039.6,1054.6 2040.4,1082.6 2041.2,1054.9 2042.0,1083.4 2042.8,1055.3 2043.6,1083.6 2044.4,1054.9 2045.2,1083.4 2046.0,1055.0 2046.8,1084.3 2047.6,1055.4 2047.6,1089.3"/>
<path stroke="#595959" d="M459.5,1134.5 461.0,1133.5 462.5,1132.6 464.0,1131.8 465.5,1131.0 467.0,1129.8 468.5,1129.2 470.0,1128.3 471.5,1127.1 473.0,1126.2 474.5,1125.3 476.0,1124.6 477.5,1123.7 479.0,1122.8 480.5,1121.6 482.0,1120.8 483.5,1120.1 485.0,1119.4 486.5,1118.5 488.0,1117.5 489.5,1116.6 491.0,1116.1 492.5,1115.2 494.0,1114.8 495.5,1114.0 497.0,1113.4 498.5,1113.0 500.0,1112.3 501.5,1111.8 503.0,1111.2 504.5,1110.6 506.0,1110.1 507.5,1109.7 509.0,1108.9 510.5,1108.7 512.0,1108.1 513.5,1107.6 515.0,1106.8 516.5,1106.3 518.0,1105.9 519.5,1105.2 521.0,1104.5 522.5,1103.7 524.0,1103.3 525.5,1102.3 527.0,1101.6 528.5,1100.7 530.0,1099.7 531.5,1098.7 533.0,1097.6 534.5,1096.5 536.0,1095.7 537.5,1094.3 539.0,1093.4 540.5,1092.3 542.0,1091.3 543.5,1090.1 545.0,1088.8 546.5,1087.4 548.0,1086.3 549.5,1084.8 551.0,1083.8 552.5,1082.3 554.0,1081.1 555.5,1079.8 557.0,1078.4 558.5,1077.2 560.0,1075.9 561.5,1074.7 563.0,1073.2 564.5,1071.9 566.0,1070.8 567.5,1069.5 569.0,1068.0 570.5,1067.0 572.0,1065.9 573.5,1064.8 575.0,1064.0 576.5,1063.0 578.0,1062.0 579.5,1060.7 581.0,1059.6 582.5,1058.4 584.0,1057.5 585.5,1056.4 587.0,1055.1 588.5,1053.9 590.0,1052.3 591.5,1051.0 593.0,1049.8 594.5,1048.3 596.0,1046.6 597.5,1045.3 599.0,1043.9 600.5,1042.6 602.0,1041.7 603.5,1040.6 605.0,1039.3 606.5,1038.3 608.0,1037.3 609.5,1036.1 611.0,1035.1 612.5,1034.4 614.0,1033.2 615.5,1032.3 617.0,1031.4 618.5,1030.4 620.0,1029.4 621.5,1028.3 623.0,1027.4 624.5,1026.7 626.0,1025.7 627.5,1024.7 629.0,1024.2 630.5,1023.1 632.0,1022.5 633.5,1021.9 635.0,1020.8 636.5,1020.4 638.0,1019.7 639.5,1018.8 641.0,1018.4 642.5,1017.7 644.0,1017.0 645.5,1016.4 647.0,1015.8 648.5,1015.2 650.0,1014.6 651.5,1013.9 653.0,1013.2 654.5,1012.3 656.0,1011.8 657.5,1010.9 659.0,1010.1 660.5,1009.3 662.0,1008.0 663.5,1007.4 665.0,1006.2 666.5,1005.1 668.0,1004.1 669.5,1003.2 671.0,1002.2 672.5,1000.9 674.0,1000.0 675.5,998.7 677.0,997.7 678.5,996.6 680.0,995.3 681.5,994.2 683.0,992.4 684.5,991.0 686.0,989.5 687.5,988.3 689.0,986.7 690.5,985.5 692.0,984.0 693.5,982.9 695.0,981.8 696.5,980.7 698.0,979.6 699.5,978.5 701.0,977.4 702.5,976.1 704.0,974.9 705.5,973.8 707.0,972.7 708.5,971.7 710.0,970.5 711.5,969.3 713.0,968.3 714.5,966.9 716.0,965.8 717.5,964.5 719.0,963.6 720.5,962.3 722.0,961.1 723.5,960.1 725.0,959.0 726.5,957.7 728.0,956.6 729.5,955.3 731.0,954.5 732.5,953.2 734.0,951.7 735.5,950.6 737.0,949.4 738.5,948.3 740.0,947.0 741.5,946.2 743.0,945.4 744.5,944.5 746.0,943.6 747.5,943.0 749.0,942.2 750.5,941.6 752.0,940.7 753.5,940.2 755.0,939.2 756.5,938.8 758.0,938.0 759.5,937.4 761.0,936.4 762.5,935.9 764.0,935.1 765.5,934.5 767.0,934.0 768.5,933.1 770.0,932.6 771.5,932.0 773.0,931.2 774.5,930.6 776.0,929.7 777.5,929.2 779.0,928.4 780.5,927.7 782.0,927.3 783.5,926.7 785.0,926.0 786.5,925.3 788.0,924.7 789.5,924.4 791.0,923.9 792.5,923.4 794.0,922.8 795.5,922.3 797.0,921.5 798.5,921.3 800.0,920.5 801.5,920.1 803.0,919.6 804.5,919.0 806.0,918.5 807.5,918.2 809.0,917.7 810.5,917.2 812.0,916.9 813.5,916.1 815.0,915.8 816.5,915.4 818.0,914.5 819.5,914.2 821.0,913.4 822.5,913.0 824.0,912.7 825.5,911.8 827.0,911.5 828.5,910.9 830.0,910.4 831.5,909.5 833.0,909.2 834.5,908.8 836.0,907.9 837.5,907.5 839.0,906.8 840.5,906.5 842.0,905.9 843.5,905.2 845.0,904.9 846.5,904.2 848.0,903.6 849.5,903.1 851.0,902.5 852.5,902.2 854.0,901.7 855.5,901.3 857.0,900.9 858.5,900.3 860.0,899.9 861.5,899.4 863.0,899.2 864.5,898.6 866.0,898.1 867.5,897.7 869.0,897.3 870.5,896.9 872.0,896.6 873.5,895.9 875.0,895.7 876.5,895.1 878.0,894.6 879.5,894.5 881.0,893.9 882.5,893.5 884.0,893.1 885.5,892.7 887.0,892.2 888.5,891.8 890.0,891.5 891.5,891.2 893.0,890.5 894.5,890.2 896.0,889.6 897.5,889.4 899.0,889.0 900.5,888.5 902.0,888.1 903.5,887.5 905.0,887.2 906.5,887.0 908.0,886.5 909.5,885.7 911.0,885.4 912.5,884.7 914.0,883.7 915.5,883.0 917.0,882.1 918.5,881.1 920.0,880.7 921.5,880.0 923.0,879.4 924.5,879.0 926.0,878.4 927.5,878.0 929.0,877.4 930.5,877.1 932.0,876.4 933.5,875.9 935.0,875.7 936.5,874.9 938.0,874.5 939.5,874.0 941.0,873.6 942.5,873.2 944.0,872.8 945.5,872.0 947.0,871.8 948.5,871.2 950.0,870.8 951.5,870.2 953.0,869.7 954.5,869.1 956.0,868.6 957.5,868.4 959.0,867.8 960.5,867.1 962.0,867.0 963.5,866.4 965.0,865.7 966.5,865.5 968.0,865.0 969.5,864.4 971.0,864.2 972.5,863.6 974.0,863.4 975.5,862.9 977.0,862.6 978.5,862.4 980.0,861.6 981.5,861.5 983.0,860.8 984.5,860.6 986.0,860.2 987.5,859.7 989.0,859.0 990.5,858.3 992.0,858.1 993.5,857.5 995.0,856.9 996.5,856.7 998.0,855.8 999.5,855.3 1001.0,855.1 1002.5,854.3 1004.0,854.0 1005.5,853.6 1007.0,853.2 1008.5,853.2 1010.0,852.8 1011.5,852.7 1013.0,852.6 1014.5,852.6 1016.0,852.6 1017.5,852.3 1019.0,852.3 1020.5,852.6 1022.0,852.5 1023.5,852.6 1025.0,852.5 1026.5,852.6 1028.0,852.6 1029.5,852.5 1031.0,852.7 1032.5,852.4 1034.0,852.6 1035.5,852.5 1037.0,852.4 1038.5,852.7 1040.0,852.6 1041.5,852.3 1043.0,852.1 1044.5,851.8 1046.0,851.4 1047.5,851.1 1049.0,850.6 1050.5,850.4 1052.0,850.3 1053.5,849.9 1055.0,849.7 1056.5,849.3 1058.0,848.9 1059.5,848.9 1061.0,848.3 1062.5,848.0 1064.0,847.7 1065.5,847.4 1067.0,847.3 1068.5,846.8 1070.0,846.7 1071.5,846.5 1073.0,846.0 1074.5,845.7 1076.0,845.3 1077.5,845.1 1079.0,844.9 1080.5,844.5 1082.0,844.2 1083.5,843.8 1085.0,843.2 1086.5,842.9 1088.0,842.8 1089.5,842.4 1091.0,842.2 1092.5,841.8 1094.0,841.4 1095.5,841.0 1097.0,840.7 1098.5,840.0 1100.0,839.7 1101.5,839.5 1103.0,839.1 1104.5,838.5 1106.0,838.2 1107.5,838.2 1109.0,837.8 1110.5,837.9 1112.0,837.7 1113.5,837.4 1115.0,837.4 1116.5,837.2 1118.0,837.2 1119.5,836.9 1121.0,837.0 1122.5,836.7 1124.0,836.8 1125.5,836.6 1127.0,836.3 1128.5,836.6 1130.0,836.2 1131.5,836.0 1133.0,836.0 1134.5,835.7 1136.0,835.6 1137.5,835.4 1139.0,835.1 1140.5,834.9 1142.0,834.7 1143.5,834.6 1145.0,834.2 1146.5,834.1 1148.0,833.9 1149.5,834.0 1151.0,834.1 1152.5,833.8 1154.0,833.8 1155.5,833.6 1157.0,833.7 1158.5,833.7 1160.0,833.5 1161.5,833.6 1163.0,833.4 1164.5,833.5 1166.0,833.5 1167.5,833.6 1169.0,833.6 1170.5,833.7 1172.0,833.7 1173.5,833.8 1175.0,833.6 1176.5,833.8 1178.0,833.7 1179.5,834.0 1181.0,833.8 1183.0,835.2 1185.3,841.5 1186.6,826.2 1187.3,816.7 1190.0,816.7 1191.0,826.2 1192.5,835.2 1194.5,831.2 1197.0,826.7 1198.8,834.2 1200.2,841.5 1202.2,835.2 1204.5,831.7 1207.0,833.2 1208.8,841.2 1210.0,846.7 1213.5,853.7 1217.0,860.7 1222.0,870.5 1226.6,876.6 1228.1,876.4 1229.6,875.9 1231.1,875.1 1232.6,874.8 1234.1,874.2 1235.6,873.6 1237.1,873.3 1238.6,872.5 1240.1,871.8 1241.6,871.4 1243.1,870.9 1244.6,870.4 1246.1,869.8 1247.6,869.8 1249.1,869.4 1250.6,869.0 1252.1,868.5 1253.6,868.3 1255.1,867.7 1256.6,867.3 1258.1,867.3 1259.6,866.9 1261.1,866.2 1262.6,865.8 1264.1,865.7 1265.6,865.1 1267.1,864.4 1268.6,863.9 1270.1,863.4 1271.6,862.7 1273.1,862.3 1274.6,861.7 1276.1,861.2 1277.6,860.5 1279.1,860.1 1280.6,859.4 1282.1,859.0 1283.6,858.2 1285.1,857.7 1286.6,857.3 1288.1,856.9 1289.6,856.0 1291.1,855.7 1292.6,855.0 1294.1,854.5 1295.6,854.2 1297.1,853.6 1298.6,853.3 1300.1,852.5 1301.6,852.3 1303.1,851.7 1304.6,851.5 1306.1,850.8 1307.6,850.4 1309.1,850.0 1310.6,849.7 1312.1,849.1 1313.6,848.7 1315.1,848.2 1316.6,847.7 1318.1,847.4 1319.6,847.1 1321.1,846.6 1322.6,846.0 1324.1,845.8 1325.6,845.4 1327.1,845.0 1328.6,844.5 1330.1,844.1 1331.6,844.0 1333.1,843.6 1334.6,843.1 1336.1,842.6 1337.6,842.4 1339.1,842.0 1340.6,841.8 1342.1,841.3 1343.6,841.0 1345.1,840.5 1346.6,840.6 1348.1,840.0 1349.6,840.0 1351.1,839.6 1352.6,839.1 1354.1,838.9 1355.6,838.6 1357.1,838.6 1358.6,838.3 1360.1,838.0 1361.6,837.7 1363.1,837.3 1364.6,837.1 1366.1,837.2 1367.6,836.8 1369.1,836.5 1370.6,836.6 1372.1,836.2 1373.6,836.1 1375.1,836.0 1376.6,835.8 1378.1,835.6 1379.6,835.3 1381.1,835.3 1382.6,835.1 1384.1,835.1 1385.6,834.8 1387.1,834.7 1388.6,834.6 1390.1,834.4 1391.6,834.2 1393.1,834.2 1394.6,834.1 1396.1,833.8 1397.6,833.8 1399.1,833.8 1400.6,833.5 1402.1,833.4 1403.6,833.4 1405.1,833.0 1406.6,833.0 1408.1,832.9 1409.6,833.0 1411.1,832.8 1412.6,832.6 1414.1,832.8 1415.6,832.6 1417.1,832.6 1418.6,832.6 1420.1,832.4 1421.6,832.5 1423.1,832.6 1424.6,832.5 1426.1,832.3 1427.6,832.3 1429.1,832.5 1430.6,832.3 1432.1,832.4 1433.6,832.6 1435.1,832.6 1436.6,832.4 1438.1,832.4 1439.6,832.5 1441.1,832.4 1442.6,832.3 1444.1,832.4 1445.6,832.5 1447.1,832.6 1448.6,832.6 1450.1,832.5 1451.6,832.7 1453.1,832.8 1454.6,832.8 1456.1,832.9 1457.6,833.0 1459.1,833.2 1460.6,833.0 1462.1,833.1 1463.6,833.3 1465.1,833.5 1466.6,833.7 1468.1,833.7 1469.6,833.8 1471.1,834.0 1472.6,834.4 1474.1,834.3 1475.6,834.6 1477.1,834.7 1478.6,834.9 1480.1,835.2 1481.6,835.2 1483.1,835.4 1484.6,835.4 1486.1,835.9 1487.6,836.1 1489.1,835.9 1490.6,836.4 1492.1,836.4 1493.6,836.5 1495.1,836.8 1496.6,836.7 1498.1,836.9 1499.6,836.9 1501.1,836.9 1502.6,837.1 1504.1,836.8 1505.6,836.6 1507.1,836.9 1508.6,836.8 1510.1,836.5 1511.6,836.4 1513.1,836.3 1514.6,835.9 1516.1,835.6 1517.6,835.5 1518.5,835.0"/>
<path stroke="#595959" d="M1670.0,908.5 1671.0,906.7 1672.0,905.0 1673.0,903.4 1674.0,901.8 1675.0,900.4 1676.0,899.2 1677.0,898.0 1678.0,896.8 1679.0,895.6 1680.0,894.5 1681.0,893.4 1682.0,892.5 1683.0,891.6 1684.0,890.9 1685.0,890.1 1686.0,889.5 1687.0,888.8 1688.0,888.3 1689.0,887.7 1690.0,887.2 1691.0,886.7 1692.0,886.1 1693.0,885.5 1694.0,884.8 1695.0,884.2 1696.0,883.7 1697.0,883.2 1698.0,882.6 1699.0,882.1 1700.0,881.6 1701.0,881.1 1702.0,880.6 1703.0,880.1 1704.0,879.6 1705.0,879.2 1706.0,878.7 1707.0,878.3 1708.0,877.9 1709.0,877.4 1710.0,877.0 1711.0,876.6 1712.0,876.1 1713.0,875.5 1714.0,874.9 1715.0,874.3 1716.0,873.8 1717.0,873.3 1718.0,872.8 1719.0,872.3 1720.0,871.9 1721.0,871.5 1722.0,871.1 1723.0,870.7 1724.0,870.3 1725.0,870.0 1726.0,869.8 1727.0,869.7 1728.0,869.6 1729.0,869.4 1730.0,869.1 1731.0,868.8 1732.0,868.5 1733.0,868.3 1734.0,868.1 1735.0,868.0 1736.0,867.9 1737.0,867.7 1738.0,867.4 1739.0,867.1 1740.0,866.6 1741.0,866.3 1742.0,866.0 1743.0,865.7 1744.0,865.5 1745.0,865.3 1746.0,865.0 1747.0,864.5 1748.0,864.0 1749.0,863.6 1750.0,863.2 1751.0,863.0 1752.0,862.8 1753.0,862.6 1754.0,862.3 1755.0,861.9 1756.0,861.4 1757.0,860.8 1758.0,860.4 1759.0,860.1 1760.0,860.0 1761.0,859.9 1762.0,859.8 1763.0,859.6 1764.0,859.2 1765.0,858.9 1766.0,858.6 1767.0,858.4 1768.0,858.3 1769.0,858.2 1770.0,858.1 1771.0,858.1 1772.0,858.0 1773.0,857.9 1774.0,857.8 1775.0,857.8 1776.0,857.8 1777.0,857.8 1778.0,857.9 1779.0,858.0 1780.0,858.2 1781.0,858.4 1782.0,858.7 1783.0,859.0 1784.0,859.2 1785.0,859.5 1786.0,859.7 1787.0,860.0 1788.0,860.2 1789.0,860.4 1790.0,860.5 1791.0,860.7 1792.0,861.0 1793.0,861.6 1794.0,862.2 1795.0,862.9 1796.0,863.5 1797.0,864.0 1798.0,864.4 1799.0,864.8 1800.0,865.4 1801.0,866.2 1802.0,867.0 1803.0,867.9 1804.0,868.8 1805.0,869.6 1806.0,870.5 1807.0,871.3 1808.0,872.1 1809.0,872.9 1810.0,873.7 1811.0,874.5 1812.0,875.4 1813.0,876.2 1814.0,876.9 1815.0,877.6 1816.0,878.3 1817.0,879.1 1818.0,880.0 1819.0,881.1 1820.0,882.2 1821.0,883.2 1822.0,884.0 1823.0,884.6 1824.0,885.0 1825.0,885.4 1826.0,885.6 1827.0,885.8 1828.0,885.9 1829.0,885.8 1830.0,885.8 1831.0,885.6 1832.0,885.5 1833.0,885.3 1834.0,885.0 1835.0,884.7 1836.0,884.3 1837.0,883.8 1838.0,883.3 1839.0,882.7 1840.0,881.9 1841.0,881.2 1842.0,880.5 1843.0,879.8 1844.0,879.2 1845.0,878.6 1846.0,878.1 1847.0,877.7 1848.0,877.3 1849.0,876.9 1850.0,876.6 1851.0,876.5 1852.0,876.9 1853.0,877.6 1854.0,878.2 1855.0,878.4 1856.0,878.4 1857.0,878.5 1858.0,878.5 1859.0,878.7 1860.0,878.7 1861.0,878.5 1862.0,878.3 1863.0,878.4 1864.0,878.7 1865.0,879.1 1866.0,879.5 1867.0,879.9 1868.0,880.3 1869.0,881.0 1870.0,881.7 1871.0,882.2 1872.0,882.5 1873.0,882.6 1874.0,882.8 1875.0,882.9 1876.0,883.0 1877.0,882.9 1878.0,882.6 1879.0,882.3 1880.0,882.3 1881.0,882.6 1882.0,882.8 1883.0,883.1 1884.0,883.4 1885.0,883.8 1886.0,884.2 1887.0,884.6 1888.0,885.0 1889.0,885.4 1890.0,885.7 1891.0,886.1 1892.0,886.3 1893.0,886.4 1894.0,886.0 1895.0,885.3 1896.0,884.7 1897.0,884.7 1898.0,885.4 1899.0,886.6 1900.0,887.8 1901.0,888.8 1902.0,889.2 1903.0,889.5 1904.0,889.8 1905.0,890.3 1906.0,891.1 1907.0,891.8 1908.0,892.4 1909.0,893.0 1910.0,893.9 1911.0,895.6 1912.0,897.5 1913.0,899.2 1914.0,899.9 1915.0,900.1 1916.0,900.1 1917.0,900.0 1918.0,900.0 1919.0,900.1 1920.0,900.1 1921.0,900.2 1922.0,900.2 1923.0,900.2 1924.0,900.1 1925.0,900.1 1926.0,900.3 1927.0,901.1 1928.0,902.7 1929.0,904.6 1930.0,906.1 1931.0,906.8 1932.0,907.4 1933.0,908.1 1934.0,908.7 1935.0,909.3 1936.0,909.6 1937.0,909.6 1938.0,909.5 1939.0,909.3 1940.0,908.9 1941.0,908.2 1942.0,907.7 1943.0,907.7 1944.0,908.6 1945.0,910.4 1946.0,912.2 1947.0,913.3 1948.0,913.3 1949.0,912.8 1950.0,912.1 1951.0,911.6 1952.0,911.3 1953.0,911.1 1954.0,911.0 1955.0,910.9 1956.0,910.9 1957.0,911.1 1958.0,911.3 1958.8,913.1 1959.6,912.0 1960.4,914.9 1961.2,913.7 1962.0,916.8 1962.8,915.3 1963.6,918.8 1964.4,917.0 1965.2,921.2 1966.0,918.4 1966.8,923.8 1967.6,919.7 1968.4,926.5 1969.2,921.0 1970.0,929.6 1970.8,922.0 1971.6,932.2 1972.4,922.4 1973.2,931.8 1974.0,923.0 1974.8,930.2 1975.6,923.4 1976.4,928.4 1977.2,923.6 1978.0,927.1 1978.8,923.9 1979.6,926.1 1980.4,924.2 1981.2,928.2 1982.0,925.1 1982.8,930.5 1983.6,926.2 1984.4,933.3 1985.2,927.0 1986.0,936.1 1986.8,927.8 1987.6,938.0 1988.4,928.0 1989.2,937.8 1990.0,928.7 1990.8,935.9 1991.6,928.1 1992.4,934.6 1993.2,927.5 1994.0,932.8 1994.8,927.2 1995.6,931.3 1996.4,926.6 1997.2,929.7 1998.0,926.4 1998.8,934.7 1999.6,927.8 2000.4,941.8 2001.2,930.6 2002.0,950.9 2002.8,933.0 2003.6,951.4 2004.4,934.0 2005.2,950.9 2006.0,933.5 2006.8,952.7 2007.6,932.2 2008.4,956.3 2009.2,931.3 2010.0,959.8 2010.8,930.3 2011.6,963.5 2012.4,929.8 2013.2,968.0 2014.0,933.5 2014.8,967.4 2015.6,935.8 2016.4,966.4 2017.2,936.6 2018.0,965.0 2018.8,936.9 2019.6,967.0 2020.4,936.9 2021.2,969.5 2022.0,939.0 2022.8,973.0 2023.6,940.1 2024.4,975.4 2025.2,940.0 2026.0,976.1 2026.8,938.8 2027.6,975.3 2028.4,937.8 2029.2,973.4 2030.0,936.4 2030.8,970.1 2031.6,934.5 2032.4,966.4 2033.2,933.4 2034.0,962.5 2034.8,933.1 2035.6,964.0 2036.4,931.7 2037.2,975.7 2038.0,926.5 2038.8,982.1 2039.6,926.8 2040.4,982.8 2041.2,927.4 2042.0,984.4 2042.8,928.2 2043.6,984.8 2044.4,927.3 2045.2,984.3 2046.0,927.5 2046.8,986.1 2047.6,928.3 2047.6,996.2"/>
<path stroke="#7f7f7f" d="M459.5,1110.5 461.0,1109.0 462.5,1107.7 464.0,1106.5 465.5,1105.3 467.0,1103.4 468.5,1102.6 470.0,1101.2 471.5,1099.4 473.0,1098.1 474.5,1096.7 476.0,1095.6 477.5,1094.3 479.0,1093.0 480.5,1091.2 482.0,1089.9 483.5,1088.9 485.0,1087.8 486.5,1086.5 488.0,1085.1 489.5,1083.7 491.0,1082.9 492.5,1081.6 494.0,1081.0 495.5,1079.8 497.0,1078.8 498.5,1078.3 500.0,1077.2 501.5,1076.5 503.0,1075.5 504.5,1074.7 506.0,1073.9 507.5,1073.3 509.0,1072.1 510.5,1071.8 512.0,1071.0 513.5,1070.1 515.0,1069.0 516.5,1068.2 518.0,1067.7 519.5,1066.6 521.0,1065.5 522.5,1064.3 524.0,1063.7 525.5,1062.2 527.0,1061.2 528.5,1059.8 530.0,1058.3 531.5,1056.8 533.0,1055.1 534.5,1053.6 536.0,1052.3 537.5,1050.3 539.0,1048.8 540.5,1047.2 542.0,1045.7 543.5,1043.9 545.0,1041.9 546.5,1039.8 548.0,1038.2 549.5,1036.0 551.0,1034.4 552.5,1032.2 554.0,1030.4 555.5,1028.4 557.0,1026.4 558.5,1024.6 560.0,1022.6 561.5,1020.8 563.0,1018.5 564.5,1016.6 566.0,1015.0 567.5,1013.1 569.0,1010.8 570.5,1009.3 572.0,1007.6 573.5,1005.9 575.0,1004.7 576.5,1003.3 578.0,1001.8 579.5,999.9 581.0,998.2 582.5,996.4 584.0,995.0 585.5,993.4 587.0,991.5 588.5,989.6 590.0,987.2 591.5,985.3 593.0,983.4 594.5,981.3 596.0,978.7 597.5,976.8 599.0,974.7 600.5,972.7 602.0,971.3 603.5,969.7 605.0,967.7 606.5,966.2 608.0,964.7 609.5,962.9 611.0,961.4 612.5,960.4 614.0,958.5 615.5,957.2 617.0,955.9 618.5,954.4 620.0,952.8 621.5,951.3 623.0,949.9 624.5,948.9 626.0,947.3 627.5,945.9 629.0,945.1 630.5,943.4 632.0,942.6 633.5,941.6 635.0,940.0 636.5,939.4 638.0,938.4 639.5,936.9 641.0,936.3 642.5,935.3 644.0,934.3 645.5,933.3 647.0,932.5 648.5,931.5 650.0,930.7 651.5,929.6 653.0,928.5 654.5,927.2 656.0,926.5 657.5,925.1 659.0,923.9 660.5,922.8 662.0,920.8 663.5,919.9 665.0,918.1 666.5,916.4 668.0,914.9 669.5,913.5 671.0,912.1 672.5,910.2 674.0,908.8 675.5,906.8 677.0,905.3 678.5,903.7 680.0,901.7 681.5,900.0 683.0,897.4 684.5,895.3 686.0,893.0 687.5,891.2 689.0,888.8 690.5,887.0 692.0,884.8 693.5,883.1 695.0,881.5 696.5,879.9 698.0,878.2 699.5,876.5 701.0,874.9 702.5,873.0 704.0,871.1 705.5,869.5 707.0,867.8 708.5,866.3 710.0,864.5 711.5,862.7 713.0,861.3 714.5,859.1 716.0,857.5 717.5,855.6 719.0,854.2 720.5,852.2 722.0,850.4 723.5,848.9 725.0,847.3 726.5,845.3 728.0,843.7 729.5,841.8 731.0,840.5 732.5,838.5 734.0,836.3 735.5,834.6 737.0,832.8 738.5,831.2 740.0,829.3 741.5,828.1 743.0,826.8 744.5,825.6 746.0,824.1 747.5,823.3 749.0,822.1 750.5,821.2 752.0,819.8 753.5,819.0 755.0,817.6 756.5,817.0 758.0,815.8 759.5,814.9 761.0,813.4 762.5,812.7 764.0,811.4 765.5,810.5 767.0,809.8 768.5,808.5 770.0,807.7 771.5,806.8 773.0,805.6 774.5,804.7 776.0,803.3 777.5,802.6 779.0,801.3 780.5,800.3 782.0,799.8 783.5,798.8 785.0,797.7 786.5,796.8 788.0,795.8 789.5,795.4 791.0,794.7 792.5,793.9 794.0,793.0 795.5,792.3 797.0,791.0 798.5,790.7 800.0,789.6 801.5,789.0 803.0,788.2 804.5,787.3 806.0,786.6 807.5,786.1 809.0,785.3 810.5,784.6 812.0,784.1 813.5,783.0 815.0,782.5 816.5,781.8 818.0,780.5 819.5,780.0 821.0,778.9 822.5,778.3 824.0,777.8 825.5,776.4 827.0,776.0 828.5,775.1 830.0,774.3 831.5,773.1 833.0,772.6 834.5,772.0 836.0,770.6 837.5,770.1 839.0,769.0 840.5,768.6 842.0,767.6 843.5,766.6 845.0,766.1 846.5,765.0 848.0,764.1 849.5,763.4 851.0,762.6 852.5,762.1 854.0,761.3 855.5,760.8 857.0,760.2 858.5,759.2 860.0,758.7 861.5,757.9 863.0,757.5 864.5,756.6 866.0,755.9 867.5,755.3 869.0,754.8 870.5,754.1 872.0,753.7 873.5,752.6 875.0,752.3 876.5,751.5 878.0,750.7 879.5,750.5 881.0,749.6 882.5,749.0 884.0,748.5 885.5,747.9 887.0,747.0 888.5,746.5 890.0,746.0 891.5,745.5 893.0,744.6 894.5,744.1 896.0,743.1 897.5,742.9 899.0,742.3 900.5,741.5 902.0,741.0 903.5,740.1 905.0,739.6 906.5,739.3 908.0,738.5 909.5,737.4 911.0,736.9 912.5,735.8 914.0,734.4 915.5,733.2 917.0,731.9 918.5,730.5 920.0,729.9 921.5,728.8 923.0,727.9 924.5,727.2 926.0,726.3 927.5,725.8 929.0,724.8 930.5,724.4 932.0,723.4 933.5,722.7 935.0,722.3 936.5,721.1 938.0,720.5 939.5,719.8 941.0,719.1 942.5,718.6 944.0,717.9 945.5,716.8 947.0,716.4 948.5,715.6 950.0,715.0 951.5,714.0 953.0,713.4 954.5,712.5 956.0,711.7 957.5,711.3 959.0,710.5 960.5,709.5 962.0,709.2 963.5,708.4 965.0,707.4 966.5,707.0 968.0,706.3 969.5,705.4 971.0,705.0 972.5,704.2 974.0,703.9 975.5,703.1 977.0,702.7 978.5,702.3 980.0,701.2 981.5,701.1 983.0,699.9 984.5,699.7 986.0,699.1 987.5,698.4 989.0,697.3 990.5,696.3 992.0,695.9 993.5,695.1 995.0,694.1 996.5,693.8 998.0,692.5 999.5,691.8 1001.0,691.4 1002.5,690.2 1004.0,689.8 1005.5,689.2 1007.0,688.5 1008.5,688.6 1010.0,688.0 1011.5,687.8 1013.0,687.6 1014.5,687.6 1016.0,687.7 1017.5,687.3 1019.0,687.2 1020.5,687.7 1022.0,687.5 1023.5,687.6 1025.0,687.5 1026.5,687.7 1028.0,687.6 1029.5,687.5 1031.0,687.9 1032.5,687.4 1034.0,687.6 1035.5,687.6 1037.0,687.4 1038.5,687.8 1040.0,687.6 1041.5,687.2 1043.0,686.9 1044.5,686.5 1046.0,685.9 1047.5,685.4 1049.0,684.7 1050.5,684.3 1052.0,684.2 1053.5,683.7 1055.0,683.3 1056.5,682.7 1058.0,682.2 1059.5,682.1 1061.0,681.3 1062.5,680.7 1064.0,680.3 1065.5,679.9 1067.0,679.8 1068.5,678.9 1070.0,678.9 1071.5,678.5 1073.0,677.8 1074.5,677.3 1076.0,676.8 1077.5,676.4 1079.0,676.1 1080.5,675.5 1082.0,675.0 1083.5,674.5 1085.0,673.6 1086.5,673.2 1088.0,673.0 1089.5,672.4 1091.0,672.0 1092.5,671.4 1094.0,670.8 1095.5,670.3 1097.0,669.8 1098.5,668.8 1100.0,668.3 1101.5,668.0 1103.0,667.4 1104.5,666.6 1106.0,666.1 1107.5,666.1 1109.0,665.5 1110.5,665.6 1112.0,665.3 1113.5,664.8 1115.0,664.8 1116.5,664.5 1118.0,664.6 1119.5,664.2 1121.0,664.3 1122.5,663.9 1124.0,664.0 1125.5,663.7 1127.0,663.2 1128.5,663.6 1130.0,663.1 1131.5,662.8 1133.0,662.8 1134.5,662.4 1136.0,662.2 1137.5,661.9 1139.0,661.4 1140.5,661.2 1142.0,660.8 1143.5,660.7 1145.0,660.0 1146.5,660.0 1148.0,659.7 1149.5,659.8 1151.0,659.9 1152.5,659.4 1154.0,659.5 1155.5,659.2 1157.0,659.3 1158.5,659.3 1160.0,659.1 1161.5,659.2 1163.0,658.9 1164.5,659.1 1166.0,659.0 1167.5,659.1 1169.0,659.2 1170.5,659.3 1172.0,659.4 1173.5,659.4 1175.0,659.2 1176.5,659.4 1178.0,659.3 1179.5,659.7 1181.0,659.5 1183.0,661.6 1185.3,671.0 1186.6,648.1 1187.3,633.9 1190.0,633.9 1191.0,648.1 1192.5,661.6 1194.5,655.6 1197.0,648.9 1198.8,660.1 1200.2,671.0 1202.2,661.6 1204.5,656.4 1207.0,658.6 1208.8,670.6 1210.0,678.9 1213.5,689.4 1217.0,699.9 1222.0,714.5 1226.6,723.7 1228.1,723.4 1229.6,722.6 1231.1,721.5 1232.6,721.0 1234.1,720.1 1235.6,719.2 1237.1,718.7 1238.6,717.5 1240.1,716.4 1241.6,715.9 1243.1,715.1 1244.6,714.3 1246.1,713.5 1247.6,713.5 1249.1,712.9 1250.6,712.2 1252.1,711.5 1253.6,711.2 1255.1,710.4 1256.6,709.7 1258.1,709.7 1259.6,709.1 1261.1,708.1 1262.6,707.5 1264.1,707.3 1265.6,706.4 1267.1,705.4 1268.6,704.7 1270.1,703.9 1271.6,702.8 1273.1,702.2 1274.6,701.3 1276.1,700.5 1277.6,699.6 1279.1,698.9 1280.6,697.9 1282.1,697.3 1283.6,696.0 1285.1,695.3 1286.6,694.7 1288.1,694.1 1289.6,692.8 1291.1,692.4 1292.6,691.3 1294.1,690.5 1295.6,690.1 1297.1,689.1 1298.6,688.7 1300.1,687.5 1301.6,687.3 1303.1,686.4 1304.6,686.0 1306.1,684.9 1307.6,684.3 1309.1,683.7 1310.6,683.4 1312.1,682.4 1313.6,681.8 1315.1,681.1 1316.6,680.4 1318.1,679.9 1319.6,679.4 1321.1,678.7 1322.6,677.8 1324.1,677.4 1325.6,676.8 1327.1,676.3 1328.6,675.6 1330.1,674.9 1331.6,674.8 1333.1,674.2 1334.6,673.4 1336.1,672.7 1337.6,672.4 1339.1,671.8 1340.6,671.5 1342.1,670.7 1343.6,670.2 1345.1,669.5 1346.6,669.6 1348.1,668.8 1349.6,668.8 1351.1,668.1 1352.6,667.5 1354.1,667.1 1355.6,666.6 1357.1,666.7 1358.6,666.3 1360.1,665.8 1361.6,665.4 1363.1,664.8 1364.6,664.4 1366.1,664.6 1367.6,664.0 1369.1,663.5 1370.6,663.7 1372.1,663.1 1373.6,662.9 1375.1,662.8 1376.6,662.4 1378.1,662.1 1379.6,661.7 1381.1,661.7 1382.6,661.4 1384.1,661.4 1385.6,661.0 1387.1,660.9 1388.6,660.7 1390.1,660.4 1391.6,660.0 1393.1,660.1 1394.6,659.9 1396.1,659.5 1397.6,659.5 1399.1,659.4 1400.6,659.1 1402.1,658.9 1403.6,658.9 1405.1,658.3 1406.6,658.3 1408.1,658.1 1409.6,658.2 1411.1,658.0 1412.6,657.7 1414.1,657.9 1415.6,657.6 1417.1,657.6 1418.6,657.6 1420.1,657.4 1421.6,657.6 1423.1,657.7 1424.6,657.6 1426.1,657.2 1427.6,657.3 1429.1,657.5 1430.6,657.2 1432.1,657.4 1433.6,657.7 1435.1,657.6 1436.6,657.4 1438.1,657.4 1439.6,657.5 1441.1,657.3 1442.6,657.3 1444.1,657.3 1445.6,657.5 1447.1,657.7 1448.6,657.7 1450.1,657.6 1451.6,657.8 1453.1,658.0 1454.6,657.9 1456.1,658.2 1457.6,658.2 1459.1,658.6 1460.6,658.3 1462.1,658.4 1463.6,658.7 1465.1,659.1 1466.6,659.3 1468.1,659.3 1469.6,659.5 1471.1,659.8 1472.6,660.4 1474.1,660.2 1475.6,660.7 1477.1,660.9 1478.6,661.1 1480.1,661.6 1481.6,661.6 1483.1,661.9 1484.6,661.9 1486.1,662.7 1487.6,662.9 1489.1,662.6 1490.6,663.3 1492.1,663.4 1493.6,663.5 1495.1,664.0 1496.6,663.9 1498.1,664.1 1499.6,664.1 1501.1,664.2 1502.6,664.5 1504.1,663.9 1505.6,663.7 1507.1,664.1 1508.6,663.9 1510.1,663.5 1511.6,663.4 1513.1,663.2 1514.6,662.7 1516.1,662.2 1517.6,662.0 1518.5,661.3"/>
<path stroke="#7f7f7f" d="M1670.0,771.5 1671.0,768.8 1672.0,766.3 1673.0,763.8 1674.0,761.5 1675.0,759.4 1676.0,757.5 1677.0,755.8 1678.0,754.0 1679.0,752.2 1680.0,750.5 1681.0,748.9 1682.0,747.5 1683.0,746.2 1684.0,745.1 1685.0,744.0 1686.0,743.0 1687.0,742.0 1688.0,741.2 1689.0,740.4 1690.0,739.6 1691.0,738.8 1692.0,737.9 1693.0,737.0 1694.0,736.0 1695.0,735.1 1696.0,734.3 1697.0,733.5 1698.0,732.7 1699.0,732.0 1700.0,731.2 1701.0,730.4 1702.0,729.7 1703.0,728.9 1704.0,728.2 1705.0,727.5 1706.0,726.9 1707.0,726.2 1708.0,725.6 1709.0,724.9 1710.0,724.3 1711.0,723.6 1712.0,722.9 1713.0,722.1 1714.0,721.2 1715.0,720.2 1716.0,719.4 1717.0,718.7 1718.0,717.9 1719.0,717.3 1720.0,716.6 1721.0,716.0 1722.0,715.4 1723.0,714.8 1724.0,714.3 1725.0,713.8 1726.0,713.5 1727.0,713.4 1728.0,713.2 1729.0,712.9 1730.0,712.5 1731.0,712.0 1732.0,711.5 1733.0,711.2 1734.0,710.9 1735.0,710.8 1736.0,710.6 1737.0,710.4 1738.0,709.9 1739.0,709.4 1740.0,708.7 1741.0,708.2 1742.0,707.7 1743.0,707.4 1744.0,707.1 1745.0,706.7 1746.0,706.2 1747.0,705.6 1748.0,704.8 1749.0,704.1 1750.0,703.6 1751.0,703.2 1752.0,702.9 1753.0,702.7 1754.0,702.3 1755.0,701.7 1756.0,700.9 1757.0,700.0 1758.0,699.4 1759.0,699.0 1760.0,698.8 1761.0,698.6 1762.0,698.5 1763.0,698.1 1764.0,697.6 1765.0,697.1 1766.0,696.6 1767.0,696.4 1768.0,696.2 1769.0,696.1 1770.0,696.0 1771.0,695.9 1772.0,695.7 1773.0,695.6 1774.0,695.5 1775.0,695.5 1776.0,695.5 1777.0,695.5 1778.0,695.6 1779.0,695.8 1780.0,696.0 1781.0,696.4 1782.0,696.9 1783.0,697.3 1784.0,697.6 1785.0,698.0 1786.0,698.4 1787.0,698.7 1788.0,699.1 1789.0,699.3 1790.0,699.5 1791.0,699.8 1792.0,700.3 1793.0,701.1 1794.0,702.1 1795.0,703.1 1796.0,704.0 1797.0,704.7 1798.0,705.3 1799.0,706.0 1800.0,706.9 1801.0,708.0 1802.0,709.3 1803.0,710.6 1804.0,712.0 1805.0,713.2 1806.0,714.5 1807.0,715.7 1808.0,716.9 1809.0,718.1 1810.0,719.3 1811.0,720.6 1812.0,721.8 1813.0,723.0 1814.0,724.1 1815.0,725.1 1816.0,726.2 1817.0,727.4 1818.0,728.8 1819.0,730.4 1820.0,732.0 1821.0,733.5 1822.0,734.7 1823.0,735.6 1824.0,736.3 1825.0,736.8 1826.0,737.2 1827.0,737.5 1828.0,737.6 1829.0,737.5 1830.0,737.4 1831.0,737.2 1832.0,737.0 1833.0,736.7 1834.0,736.3 1835.0,735.8 1836.0,735.2 1837.0,734.5 1838.0,733.7 1839.0,732.8 1840.0,731.7 1841.0,730.6 1842.0,729.5 1843.0,728.5 1844.0,727.5 1845.0,726.7 1846.0,725.9 1847.0,725.3 1848.0,724.7 1849.0,724.1 1850.0,723.7 1851.0,723.5 1852.0,724.1 1853.0,725.2 1854.0,726.1 1855.0,726.4 1856.0,726.4 1857.0,726.5 1858.0,726.6 1859.0,726.8 1860.0,726.8 1861.0,726.5 1862.0,726.3 1863.0,726.4 1864.0,726.8 1865.0,727.4 1866.0,728.0 1867.0,728.6 1868.0,729.3 1869.0,730.3 1870.0,731.3 1871.0,732.1 1872.0,732.5 1873.0,732.7 1874.0,732.9 1875.0,733.1 1876.0,733.3 1877.0,733.1 1878.0,732.7 1879.0,732.3 1880.0,732.3 1881.0,732.6 1882.0,733.0 1883.0,733.5 1884.0,733.9 1885.0,734.5 1886.0,735.1 1887.0,735.7 1888.0,736.3 1889.0,736.8 1890.0,737.4 1891.0,737.9 1892.0,738.3 1893.0,738.4 1894.0,737.8 1895.0,736.7 1896.0,735.9 1897.0,735.8 1898.0,736.9 1899.0,738.7 1900.0,740.5 1901.0,741.9 1902.0,742.6 1903.0,743.1 1904.0,743.5 1905.0,744.3 1906.0,745.4 1907.0,746.4 1908.0,747.4 1909.0,748.3 1910.0,749.6 1911.0,752.1 1912.0,755.1 1913.0,757.5 1914.0,758.6 1915.0,759.0 1916.0,758.9 1917.0,758.8 1918.0,758.8 1919.0,758.9 1920.0,759.0 1921.0,759.0 1922.0,759.1 1923.0,759.0 1924.0,758.9 1925.0,759.0 1926.0,759.2 1927.0,760.4 1928.0,762.8 1929.0,765.7 1930.0,767.9 1931.0,769.0 1932.0,769.9 1933.0,770.9 1934.0,771.9 1935.0,772.7 1936.0,773.2 1937.0,773.2 1938.0,773.0 1939.0,772.8 1940.0,772.1 1941.0,771.1 1942.0,770.4 1943.0,770.3 1944.0,771.7 1945.0,774.3 1946.0,777.1 1947.0,778.8 1948.0,778.7 1949.0,778.0 1950.0,777.0 1951.0,776.2 1952.0,775.8 1953.0,775.5 1954.0,775.2 1955.0,775.1 1956.0,775.1 1957.0,775.4 1958.0,775.7 1958.8,778.4 1959.6,776.8 1960.4,781.1 1961.2,779.4 1962.0,784.0 1962.8,781.7 1963.6,787.0 1964.4,784.3 1965.2,790.6 1966.0,786.4 1966.8,794.4 1967.6,788.4 1968.4,798.5 1969.2,790.2 1970.0,803.2 1970.8,791.8 1971.6,807.0 1972.4,792.4 1973.2,806.5 1974.0,793.2 1974.8,804.1 1975.6,793.9 1976.4,801.4 1977.2,794.1 1978.0,799.5 1978.8,794.6 1979.6,797.9 1980.4,795.0 1981.2,801.1 1982.0,796.5 1982.8,804.6 1983.6,798.1 1984.4,808.8 1985.2,799.2 1986.0,812.9 1986.8,800.5 1987.6,815.7 1988.4,800.8 1989.2,815.4 1990.0,801.8 1990.8,812.6 1991.6,801.0 1992.4,810.7 1993.2,800.1 1994.0,808.0 1994.8,799.5 1995.6,805.7 1996.4,798.7 1997.2,803.4 1998.0,798.4 1998.8,810.9 1999.6,800.5 2000.4,821.4 2001.2,804.7 2002.0,835.1 2002.8,808.2 2003.6,835.8 2004.4,809.8 2005.2,835.2 2006.0,809.0 2006.8,837.8 2007.6,807.1 2008.4,843.2 2009.2,805.7 2010.0,848.5 2010.8,804.2 2011.6,854.0 2012.4,803.4 2013.2,860.7 2014.0,809.0 2014.8,859.9 2015.6,812.5 2016.4,858.4 2017.2,813.6 2018.0,856.3 2018.8,814.1 2019.6,859.3 2020.4,814.2 2021.2,863.1 2022.0,817.3 2022.8,868.3 2023.6,818.9 2024.4,871.9 2025.2,818.7 2026.0,872.9 2026.8,817.0 2027.6,871.7 2028.4,815.5 2029.2,868.9 2030.0,813.3 2030.8,864.0 2031.6,810.5 2032.4,858.4 2033.2,808.8 2034.0,852.5 2034.8,808.4 2035.6,854.7 2036.4,806.3 2037.2,872.3 2038.0,798.5 2038.8,881.9 2039.6,798.9 2040.4,882.9 2041.2,799.8 2042.0,885.3 2042.8,801.0 2043.6,886.0 2044.4,799.7 2045.2,885.3 2046.0,800.0 2046.8,887.9 2047.6,801.2 2047.6,903.1"/>
<path stroke="#a6a6a6" d="M459.5,1086.6 461.0,1084.5 462.5,1082.7 464.0,1081.2 465.5,1079.6 467.0,1077.1 468.5,1075.9 470.0,1074.1 471.5,1071.7 473.0,1069.9 474.5,1068.1 476.0,1066.7 477.5,1065.0 479.0,1063.1 480.5,1060.8 482.0,1059.1 483.5,1057.7 485.0,1056.3 486.5,1054.5 488.0,1052.6 489.5,1050.8 491.0,1049.8 492.5,1048.0 494.0,1047.2 495.5,1045.6 497.0,1044.3 498.5,1043.6 500.0,1042.1 501.5,1041.2 503.0,1039.9 504.5,1038.8 506.0,1037.7 507.5,1037.0 509.0,1035.4 510.5,1034.9 512.0,1033.8 513.5,1032.7 515.0,1031.1 516.5,1030.1 518.0,1029.4 519.5,1028.0 521.0,1026.5 522.5,1024.9 524.0,1024.2 525.5,1022.1 527.0,1020.8 528.5,1019.0 530.0,1016.9 531.5,1014.9 533.0,1012.7 534.5,1010.6 536.0,1008.9 537.5,1006.2 539.0,1004.3 540.5,1002.1 542.0,1000.1 543.5,997.7 545.0,995.1 546.5,992.3 548.0,990.1 549.5,987.2 551.0,985.1 552.5,982.1 554.0,979.7 555.5,977.1 557.0,974.4 558.5,971.9 560.0,969.3 561.5,967.0 563.0,963.9 564.5,961.4 566.0,959.1 567.5,956.6 569.0,953.5 570.5,951.6 572.0,949.4 573.5,947.1 575.0,945.5 576.5,943.6 578.0,941.5 579.5,939.0 581.0,936.8 582.5,934.4 584.0,932.5 585.5,930.3 587.0,927.8 588.5,925.3 590.0,922.2 591.5,919.5 593.0,917.1 594.5,914.2 596.0,910.8 597.5,908.2 599.0,905.4 600.5,902.8 602.0,901.0 603.5,898.8 605.0,896.1 606.5,894.1 608.0,892.1 609.5,889.7 611.0,887.8 612.5,886.3 614.0,883.9 615.5,882.1 617.0,880.3 618.5,878.4 620.0,876.3 621.5,874.2 623.0,872.3 624.5,871.0 626.0,868.9 627.5,867.0 629.0,866.0 630.5,863.7 632.0,862.6 633.5,861.3 635.0,859.2 636.5,858.3 638.0,857.0 639.5,855.1 641.0,854.3 642.5,852.9 644.0,851.6 645.5,850.3 647.0,849.2 648.5,847.9 650.0,846.8 651.5,845.3 653.0,843.9 654.5,842.1 656.0,841.2 657.5,839.3 659.0,837.7 660.5,836.2 662.0,833.6 663.5,832.3 665.0,830.0 666.5,827.8 668.0,825.8 669.5,823.9 671.0,822.0 672.5,819.4 674.0,817.6 675.5,814.9 677.0,812.9 678.5,810.8 680.0,808.2 681.5,805.9 683.0,802.4 684.5,799.6 686.0,796.6 687.5,794.1 689.0,790.9 690.5,788.5 692.0,785.6 693.5,783.3 695.0,781.1 696.5,779.0 698.0,776.8 699.5,774.5 701.0,772.3 702.5,769.8 704.0,767.3 705.5,765.2 707.0,762.9 708.5,760.9 710.0,758.5 711.5,756.1 713.0,754.2 714.5,751.3 716.0,749.2 717.5,746.6 719.0,744.8 720.5,742.1 722.0,739.7 723.5,737.7 725.0,735.6 726.5,733.0 728.0,730.8 729.5,728.2 731.0,726.5 732.5,723.9 734.0,721.0 735.5,718.7 737.0,716.3 738.5,714.1 740.0,711.6 741.5,710.0 743.0,708.3 744.5,706.6 746.0,704.7 747.5,703.6 749.0,702.0 750.5,700.7 752.0,698.9 753.5,697.9 755.0,696.0 756.5,695.2 758.0,693.6 759.5,692.4 761.0,690.4 762.5,689.4 764.0,687.7 765.5,686.5 767.0,685.6 768.5,683.8 770.0,682.8 771.5,681.6 773.0,679.9 774.5,678.8 776.0,676.9 777.5,676.0 779.0,674.3 780.5,672.9 782.0,672.2 783.5,670.9 785.0,669.5 786.5,668.2 788.0,666.9 789.5,666.4 791.0,665.4 792.5,664.3 794.0,663.2 795.5,662.2 797.0,660.5 798.5,660.1 800.0,658.6 801.5,657.8 803.0,656.8 804.5,655.6 806.0,654.6 807.5,653.9 809.0,652.9 810.5,652.0 812.0,651.3 813.5,649.8 815.0,649.2 816.5,648.3 818.0,646.5 819.5,645.9 821.0,644.4 822.5,643.6 824.0,642.9 825.5,641.1 827.0,640.5 828.5,639.4 830.0,638.3 831.5,636.6 833.0,636.0 834.5,635.1 836.0,633.4 837.5,632.6 839.0,631.2 840.5,630.6 842.0,629.3 843.5,628.0 845.0,627.3 846.5,625.9 848.0,624.7 849.5,623.7 851.0,622.6 852.5,622.0 854.0,621.0 855.5,620.2 857.0,619.4 858.5,618.1 860.0,617.4 861.5,616.4 863.0,615.9 864.5,614.7 866.0,613.7 867.5,612.9 869.0,612.2 870.5,611.4 872.0,610.8 873.5,609.4 875.0,608.9 876.5,607.8 878.0,606.8 879.5,606.6 881.0,605.3 882.5,604.5 884.0,603.8 885.5,603.0 887.0,601.9 888.5,601.2 890.0,600.5 891.5,599.9 893.0,598.6 894.5,597.9 896.0,596.7 897.5,596.4 899.0,595.6 900.5,594.5 902.0,593.8 903.5,592.6 905.0,592.0 906.5,591.6 908.0,590.6 909.5,589.0 911.0,588.4 912.5,587.0 914.0,585.0 915.5,583.5 917.0,581.8 918.5,579.8 920.0,579.0 921.5,577.6 923.0,576.4 924.5,575.5 926.0,574.3 927.5,573.6 929.0,572.3 930.5,571.7 932.0,570.4 933.5,569.4 935.0,568.9 936.5,567.3 938.0,566.5 939.5,565.6 941.0,564.7 942.5,563.9 944.0,563.1 945.5,561.6 947.0,561.1 948.5,559.9 950.0,559.2 951.5,557.9 953.0,557.0 954.5,555.8 956.0,554.8 957.5,554.3 959.0,553.2 960.5,551.8 962.0,551.5 963.5,550.4 965.0,549.0 966.5,548.5 968.0,547.5 969.5,546.4 971.0,545.9 972.5,544.8 974.0,544.4 975.5,543.4 977.0,542.8 978.5,542.3 980.0,540.8 981.5,540.6 983.0,539.1 984.5,538.8 986.0,537.9 987.5,537.0 989.0,535.6 990.5,534.2 992.0,533.7 993.5,532.6 995.0,531.4 996.5,530.9 998.0,529.2 999.5,528.2 1001.0,527.7 1002.5,526.1 1004.0,525.6 1005.5,524.8 1007.0,523.9 1008.5,524.0 1010.0,523.1 1011.5,522.9 1013.0,522.7 1014.5,522.7 1016.0,522.8 1017.5,522.2 1019.0,522.2 1020.5,522.8 1022.0,522.6 1023.5,522.7 1025.0,522.5 1026.5,522.7 1028.0,522.7 1029.5,522.5 1031.0,523.0 1032.5,522.4 1034.0,522.7 1035.5,522.6 1037.0,522.4 1038.5,522.9 1040.0,522.7 1041.5,522.1 1043.0,521.7 1044.5,521.1 1046.0,520.4 1047.5,519.8 1049.0,518.8 1050.5,518.3 1052.0,518.1 1053.5,517.4 1055.0,517.0 1056.5,516.1 1058.0,515.4 1059.5,515.3 1061.0,514.2 1062.5,513.5 1064.0,512.9 1065.5,512.3 1067.0,512.2 1068.5,511.1 1070.0,511.0 1071.5,510.5 1073.0,509.6 1074.5,508.9 1076.0,508.2 1077.5,507.7 1079.0,507.3 1080.5,506.5 1082.0,505.9 1083.5,505.2 1085.0,503.9 1086.5,503.4 1088.0,503.1 1089.5,502.4 1091.0,501.9 1092.5,501.1 1094.0,500.3 1095.5,499.6 1097.0,498.9 1098.5,497.6 1100.0,496.9 1101.5,496.6 1103.0,495.7 1104.5,494.6 1106.0,494.0 1107.5,494.0 1109.0,493.1 1110.5,493.3 1112.0,493.0 1113.5,492.3 1115.0,492.3 1116.5,491.9 1118.0,492.0 1119.5,491.4 1121.0,491.6 1122.5,491.0 1124.0,491.2 1125.5,490.8 1127.0,490.2 1128.5,490.7 1130.0,489.9 1131.5,489.6 1133.0,489.6 1134.5,489.0 1136.0,488.7 1137.5,488.4 1139.0,487.8 1140.5,487.4 1142.0,486.9 1143.5,486.8 1145.0,485.9 1146.5,485.8 1148.0,485.4 1149.5,485.5 1151.0,485.7 1152.5,485.1 1154.0,485.2 1155.5,484.8 1157.0,484.9 1158.5,484.9 1160.0,484.6 1161.5,484.7 1163.0,484.3 1164.5,484.6 1166.0,484.6 1167.5,484.7 1169.0,484.8 1170.5,485.0 1172.0,485.0 1173.5,485.1 1175.0,484.8 1176.5,485.1 1178.0,485.0 1179.5,485.5 1181.0,485.2 1183.0,488.0 1185.3,500.5 1186.6,470.0 1187.3,451.0 1190.0,451.0 1191.0,470.0 1192.5,488.0 1194.5,480.0 1197.0,471.0 1198.8,486.0 1200.2,500.5 1202.2,488.0 1204.5,481.0 1207.0,484.0 1208.8,500.0 1210.0,511.0 1213.5,525.0 1217.0,539.0 1222.0,558.5 1226.6,570.8 1228.1,570.3 1229.6,569.3 1231.1,567.8 1232.6,567.1 1234.1,566.0 1235.6,564.8 1237.1,564.1 1238.6,562.5 1240.1,561.1 1241.6,560.4 1243.1,559.3 1244.6,558.3 1246.1,557.2 1247.6,557.1 1249.1,556.3 1250.6,555.5 1252.1,554.5 1253.6,554.1 1255.1,553.0 1256.6,552.2 1258.1,552.1 1259.6,551.3 1261.1,550.0 1262.6,549.2 1264.1,548.9 1265.6,547.8 1267.1,546.4 1268.6,545.4 1270.1,544.4 1271.6,543.0 1273.1,542.1 1274.6,540.9 1276.1,539.9 1277.6,538.6 1279.1,537.7 1280.6,536.3 1282.1,535.6 1283.6,533.9 1285.1,532.9 1286.6,532.1 1288.1,531.3 1289.6,529.6 1291.1,529.0 1292.6,527.5 1294.1,526.5 1295.6,526.0 1297.1,524.7 1298.6,524.1 1300.1,522.6 1301.6,522.2 1303.1,521.0 1304.6,520.6 1306.1,519.1 1307.6,518.3 1309.1,517.5 1310.6,517.0 1312.1,515.7 1313.6,514.9 1315.1,514.0 1316.6,513.0 1318.1,512.4 1319.6,511.7 1321.1,510.8 1322.6,509.5 1324.1,509.1 1325.6,508.3 1327.1,507.6 1328.6,506.6 1330.1,505.7 1331.6,505.5 1333.1,504.8 1334.6,503.7 1336.1,502.7 1337.6,502.3 1339.1,501.5 1340.6,501.2 1342.1,500.1 1343.6,499.5 1345.1,498.6 1346.6,498.7 1348.1,497.6 1349.6,497.6 1351.1,496.7 1352.6,495.8 1354.1,495.4 1355.6,494.7 1357.1,494.7 1358.6,494.2 1360.1,493.6 1361.6,493.0 1363.1,492.2 1364.6,491.8 1366.1,492.0 1367.6,491.1 1369.1,490.6 1370.6,490.8 1372.1,489.9 1373.6,489.7 1375.1,489.6 1376.6,489.1 1378.1,488.7 1379.6,488.1 1381.1,488.1 1382.6,487.7 1384.1,487.7 1385.6,487.2 1387.1,487.0 1388.6,486.7 1390.1,486.4 1391.6,485.9 1393.1,486.0 1394.6,485.7 1396.1,485.2 1397.6,485.2 1399.1,485.1 1400.6,484.6 1402.1,484.4 1403.6,484.4 1405.1,483.6 1406.6,483.6 1408.1,483.3 1409.6,483.5 1411.1,483.1 1412.6,482.8 1414.1,483.1 1415.6,482.7 1417.1,482.7 1418.6,482.7 1420.1,482.4 1421.6,482.6 1423.1,482.8 1424.6,482.6 1426.1,482.2 1427.6,482.2 1429.1,482.6 1430.6,482.1 1432.1,482.3 1433.6,482.8 1435.1,482.7 1436.6,482.4 1438.1,482.3 1439.6,482.5 1441.1,482.3 1442.6,482.2 1444.1,482.3 1445.6,482.6 1447.1,482.7 1448.6,482.8 1450.1,482.6 1451.6,482.9 1453.1,483.2 1454.6,483.1 1456.1,483.4 1457.6,483.5 1459.1,483.9 1460.6,483.6 1462.1,483.8 1463.6,484.1 1465.1,484.6 1466.6,484.9 1468.1,484.9 1469.6,485.2 1471.1,485.6 1472.6,486.3 1474.1,486.1 1475.6,486.7 1477.1,487.0 1478.6,487.3 1480.1,488.0 1481.6,488.0 1483.1,488.3 1484.6,488.4 1486.1,489.4 1487.6,489.8 1489.1,489.4 1490.6,490.3 1492.1,490.4 1493.6,490.5 1495.1,491.2 1496.6,491.0 1498.1,491.3 1499.6,491.3 1501.1,491.4 1502.6,491.8 1504.1,491.1 1505.6,490.8 1507.1,491.3 1508.6,491.1 1510.1,490.5 1511.6,490.4 1513.1,490.1 1514.6,489.4 1516.1,488.8 1517.6,488.5 1518.5,487.6"/>
<path stroke="#a6a6a6" d="M1670.0,634.5 1671.0,630.9 1672.0,627.5 1673.0,624.3 1674.0,621.2 1675.0,618.4 1676.0,615.9 1677.0,613.5 1678.0,611.2 1679.0,608.7 1680.0,606.5 1681.0,604.4 1682.0,602.5 1683.0,600.8 1684.0,599.3 1685.0,597.8 1686.0,596.5 1687.0,595.2 1688.0,594.1 1689.0,593.0 1690.0,592.0 1691.0,590.9 1692.0,589.8 1693.0,588.5 1694.0,587.2 1695.0,586.0 1696.0,584.9 1697.0,583.9 1698.0,582.8 1699.0,581.8 1700.0,580.8 1701.0,579.8 1702.0,578.8 1703.0,577.8 1704.0,576.8 1705.0,575.9 1706.0,575.0 1707.0,574.2 1708.0,573.3 1709.0,572.4 1710.0,571.6 1711.0,570.7 1712.0,569.7 1713.0,568.6 1714.0,567.4 1715.0,566.2 1716.0,565.1 1717.0,564.1 1718.0,563.1 1719.0,562.2 1720.0,561.3 1721.0,560.5 1722.0,559.7 1723.0,558.9 1724.0,558.2 1725.0,557.6 1726.0,557.2 1727.0,557.0 1728.0,556.8 1729.0,556.4 1730.0,555.8 1731.0,555.2 1732.0,554.6 1733.0,554.1 1734.0,553.7 1735.0,553.5 1736.0,553.3 1737.0,553.0 1738.0,552.4 1739.0,551.7 1740.0,550.8 1741.0,550.1 1742.0,549.5 1743.0,549.0 1744.0,548.6 1745.0,548.1 1746.0,547.5 1747.0,546.6 1748.0,545.6 1749.0,544.7 1750.0,543.9 1751.0,543.5 1752.0,543.1 1753.0,542.8 1754.0,542.2 1755.0,541.4 1756.0,540.3 1757.0,539.2 1758.0,538.3 1759.0,537.8 1760.0,537.5 1761.0,537.4 1762.0,537.1 1763.0,536.7 1764.0,536.0 1765.0,535.3 1766.0,534.7 1767.0,534.4 1768.0,534.2 1769.0,534.0 1770.0,533.8 1771.0,533.7 1772.0,533.5 1773.0,533.3 1774.0,533.2 1775.0,533.1 1776.0,533.1 1777.0,533.2 1778.0,533.4 1779.0,533.6 1780.0,533.9 1781.0,534.4 1782.0,535.0 1783.0,535.6 1784.0,536.0 1785.0,536.5 1786.0,537.0 1787.0,537.5 1788.0,538.0 1789.0,538.3 1790.0,538.5 1791.0,538.9 1792.0,539.6 1793.0,540.7 1794.0,542.0 1795.0,543.3 1796.0,544.5 1797.0,545.5 1798.0,546.3 1799.0,547.2 1800.0,548.3 1801.0,549.9 1802.0,551.6 1803.0,553.4 1804.0,555.2 1805.0,556.8 1806.0,558.5 1807.0,560.1 1808.0,561.7 1809.0,563.3 1810.0,564.9 1811.0,566.6 1812.0,568.3 1813.0,569.9 1814.0,571.3 1815.0,572.7 1816.0,574.1 1817.0,575.7 1818.0,577.6 1819.0,579.8 1820.0,581.9 1821.0,583.9 1822.0,585.5 1823.0,586.7 1824.0,587.6 1825.0,588.3 1826.0,588.8 1827.0,589.2 1828.0,589.3 1829.0,589.2 1830.0,589.1 1831.0,588.8 1832.0,588.6 1833.0,588.2 1834.0,587.6 1835.0,586.9 1836.0,586.1 1837.0,585.2 1838.0,584.1 1839.0,582.9 1840.0,581.4 1841.0,579.9 1842.0,578.5 1843.0,577.1 1844.0,575.9 1845.0,574.7 1846.0,573.7 1847.0,572.9 1848.0,572.1 1849.0,571.4 1850.0,570.8 1851.0,570.6 1852.0,571.4 1853.0,572.8 1854.0,574.0 1855.0,574.4 1856.0,574.4 1857.0,574.5 1858.0,574.6 1859.0,574.9 1860.0,574.9 1861.0,574.5 1862.0,574.2 1863.0,574.3 1864.0,575.0 1865.0,575.7 1866.0,576.5 1867.0,577.3 1868.0,578.2 1869.0,579.5 1870.0,580.9 1871.0,582.0 1872.0,582.5 1873.0,582.8 1874.0,583.1 1875.0,583.4 1876.0,583.6 1877.0,583.3 1878.0,582.7 1879.0,582.2 1880.0,582.2 1881.0,582.7 1882.0,583.2 1883.0,583.8 1884.0,584.4 1885.0,585.2 1886.0,586.0 1887.0,586.8 1888.0,587.6 1889.0,588.3 1890.0,589.0 1891.0,589.7 1892.0,590.2 1893.0,590.4 1894.0,589.6 1895.0,588.2 1896.0,587.0 1897.0,587.0 1898.0,588.4 1899.0,590.7 1900.0,593.2 1901.0,595.1 1902.0,596.0 1903.0,596.6 1904.0,597.2 1905.0,598.2 1906.0,599.7 1907.0,601.1 1908.0,602.4 1909.0,603.6 1910.0,605.3 1911.0,608.7 1912.0,612.6 1913.0,615.9 1914.0,617.4 1915.0,617.8 1916.0,617.8 1917.0,617.6 1918.0,617.6 1919.0,617.7 1920.0,617.8 1921.0,617.9 1922.0,618.0 1923.0,617.9 1924.0,617.8 1925.0,617.8 1926.0,618.2 1927.0,619.7 1928.0,623.0 1929.0,626.7 1930.0,629.7 1931.0,631.2 1932.0,632.4 1933.0,633.7 1934.0,635.0 1935.0,636.1 1936.0,636.7 1937.0,636.8 1938.0,636.6 1939.0,636.2 1940.0,635.3 1941.0,634.0 1942.0,633.0 1943.0,632.9 1944.0,634.7 1945.0,638.3 1946.0,642.0 1947.0,644.2 1948.0,644.2 1949.0,643.2 1950.0,641.8 1951.0,640.7 1952.0,640.2 1953.0,639.8 1954.0,639.5 1955.0,639.3 1956.0,639.4 1957.0,639.7 1958.0,640.1 1958.8,643.7 1959.6,641.6 1960.4,647.3 1961.2,645.0 1962.0,651.2 1962.8,648.1 1963.6,655.1 1964.4,651.5 1965.2,660.0 1966.0,654.4 1966.8,665.1 1967.6,657.0 1968.4,670.5 1969.2,659.5 1970.0,676.8 1970.8,661.6 1971.6,681.9 1972.4,662.4 1973.2,681.2 1974.0,663.5 1974.8,677.9 1975.6,664.4 1976.4,674.4 1977.2,664.7 1978.0,671.8 1978.8,665.3 1979.6,669.7 1980.4,665.9 1981.2,674.0 1982.0,667.8 1982.8,678.6 1983.6,669.9 1984.4,684.2 1985.2,671.5 1986.0,689.7 1986.8,673.2 1987.6,693.5 1988.4,673.6 1989.2,693.1 1990.0,674.9 1990.8,689.3 1991.6,673.8 1992.4,686.8 1993.2,672.6 1994.0,683.2 1994.8,671.9 1995.6,680.1 1996.4,670.7 1997.2,677.0 1998.0,670.4 1998.8,687.0 1999.6,673.2 2000.4,701.1 2001.2,678.7 2002.0,719.4 2002.8,683.5 2003.6,720.3 2004.4,685.6 2005.2,719.4 2006.0,684.5 2006.8,722.9 2007.6,682.0 2008.4,730.2 2009.2,680.1 2010.0,737.2 2010.8,678.1 2011.6,744.6 2012.4,677.1 2013.2,753.5 2014.0,684.5 2014.8,752.4 2015.6,689.2 2016.4,750.4 2017.2,690.7 2018.0,747.6 2018.8,691.3 2019.6,751.5 2020.4,691.4 2021.2,756.6 2022.0,695.5 2022.8,763.5 2023.6,697.7 2024.4,768.4 2025.2,697.5 2026.0,769.7 2026.8,695.1 2027.6,768.2 2028.4,693.2 2029.2,764.4 2030.0,690.3 2030.8,757.8 2031.6,686.6 2032.4,750.4 2033.2,684.3 2034.0,742.6 2034.8,683.7 2035.6,745.5 2036.4,680.9 2037.2,769.0 2038.0,670.5 2038.8,781.7 2039.6,671.1 2040.4,783.1 2041.2,672.3 2042.0,786.3 2042.8,673.9 2043.6,787.2 2044.4,672.1 2045.2,786.2 2046.0,672.5 2046.8,789.7 2047.6,674.1 2047.6,790.5"/>
</g>
<g>
<rect x="307.1" y="47.60" width="1818.8" height="2.40" fill="#f3f3f3"/>
<rect x="310.0" y="52.80" width="1810.0" height="2.80" fill="#dcdcdc"/>
<rect x="310.0" y="1178.40" width="1810.0" height="2.70" fill="#dedede"/>
<rect x="307.1" y="1183.80" width="1818.8" height="2.90" fill="#d9d9d9"/>
<rect x="310.00" y="52.8" width="2.80" height="1128.3" fill="#cacaca"/>
<rect x="310.0" y="992.50" width="23.5" height="2.90" fill="#7c7c7c"/>
<rect x="310.0" y="995.40" width="23.5" height="2.85" fill="#c4c4c4"/>
<rect x="310.0" y="804.00" width="23.5" height="2.90" fill="#7c7c7c"/>
<rect x="310.0" y="806.90" width="23.5" height="2.85" fill="#c4c4c4"/>
<rect x="310.0" y="615.50" width="23.5" height="2.90" fill="#7c7c7c"/>
<rect x="310.0" y="618.40" width="23.5" height="2.85" fill="#c4c4c4"/>
<rect x="310.0" y="427.00" width="23.5" height="2.90" fill="#7c7c7c"/>
<rect x="310.0" y="429.90" width="23.5" height="2.85" fill="#c4c4c4"/>
<rect x="310.0" y="238.50" width="23.5" height="2.90" fill="#7c7c7c"/>
<rect x="310.0" y="241.40" width="23.5" height="2.85" fill="#c4c4c4"/>
<rect x="608.72" y="1157.5" width="4.80" height="23.6" fill="#8e8e8e"/>
<rect x="911.04" y="1157.5" width="4.80" height="23.6" fill="#8e8e8e"/>
<rect x="1213.36" y="1157.5" width="4.80" height="23.6" fill="#8e8e8e"/>
<rect x="1515.68" y="1157.5" width="4.80" height="23.6" fill="#8e8e8e"/>
<rect x="1818.00" y="1157.5" width="4.80" height="23.6" fill="#8e8e8e"/>
<rect x="307.1" y="50.00" width="1818.8" height="2.80" fill="#818181"/>
<rect x="307.1" y="1181.10" width="1818.8" height="2.70" fill="#7e7e7e"/>
<rect x="307.10" y="50.0" width="2.90" height="1133.8" fill="#7e7e7e"/>
<rect x="2120.00" y="52.8" width="3.10" height="1128.3" fill="#9a9a9a"/>
<rect x="2123.10" y="50.0" width="2.80" height="1133.8" fill="#7c7c7c"/>
</g>
<g font-family="'Liberation Sans', sans-serif" fill="#000">
<path d="M465.8 122.0H583.8" stroke="#0f0f0f" stroke-width="8.4" fill="none"/>
<text transform="translate(593.7 144.3) scale(1 1.020)" font-size="68.3" text-anchor="start" stroke="#fff" stroke-width="0.5" paint-order="fill stroke">soil1</text>
<path d="M779.8 122.0H897.8" stroke="#404040" stroke-width="8.4" fill="none"/>
<text transform="translate(907.7 144.3) scale(1 1.020)" font-size="68.3" text-anchor="start" stroke="#fff" stroke-width="0.5" paint-order="fill stroke">soil2</text>
<path d="M1093.8 122.0H1211.8" stroke="#595959" stroke-width="8.4" fill="none"/>
<text transform="translate(1221.7 144.3) scale(1 1.020)" font-size="68.3" text-anchor="start" stroke="#fff" stroke-width="0.5" paint-order="fill stroke">soil3</text>
<path d="M1407.8 122.0H1525.8" stroke="#7f7f7f" stroke-width="8.4" fill="none"/>
<text transform="translate(1535.7 144.3) scale(1 1.020)" font-size="68.3" text-anchor="start" stroke="#fff" stroke-width="0.5" paint-order="fill stroke">soil4</text>
<path d="M1721.8 122.0H1839.8" stroke="#a6a6a6" stroke-width="8.4" fill="none"/>
<text transform="translate(1849.7 144.3) scale(1 1.020)" font-size="68.3" text-anchor="start" stroke="#fff" stroke-width="0.5" paint-order="fill stroke">soil5</text>
<text transform="translate(240.4 1209.3) scale(1 1.062)" font-size="80.3" text-anchor="end" stroke="#fff" stroke-width="1.0" paint-order="fill stroke">0</text>
<text transform="translate(240.4 1020.8) scale(1 1.062)" font-size="80.3" text-anchor="end" stroke="#fff" stroke-width="1.0" paint-order="fill stroke">0.1</text>
<text transform="translate(240.4 832.3) scale(1 1.062)" font-size="80.3" text-anchor="end" stroke="#fff" stroke-width="1.0" paint-order="fill stroke">0.2</text>
<text transform="translate(240.4 643.8) scale(1 1.062)" font-size="80.3" text-anchor="end" stroke="#fff" stroke-width="1.0" paint-order="fill stroke">0.3</text>
<text transform="translate(240.4 455.3) scale(1 1.062)" font-size="80.3" text-anchor="end" stroke="#fff" stroke-width="1.0" paint-order="fill stroke">0.4</text>
<text transform="translate(240.4 266.8) scale(1 1.062)" font-size="80.3" text-anchor="end" stroke="#fff" stroke-width="1.0" paint-order="fill stroke">0.5</text>
<text transform="translate(240.4 78.3) scale(1 1.062)" font-size="80.3" text-anchor="end" stroke="#fff" stroke-width="1.0" paint-order="fill stroke">0.6</text>
<text transform="translate(309.0 1305.1) scale(1 1.048)" font-size="81.5" text-anchor="middle" stroke="#fff" stroke-width="1.0" paint-order="fill stroke">200</text>
<text transform="translate(611.3 1305.1) scale(1 1.048)" font-size="81.5" text-anchor="middle" stroke="#fff" stroke-width="1.0" paint-order="fill stroke">600</text>
<text transform="translate(913.6 1305.1) scale(1 1.048)" font-size="81.5" text-anchor="middle" stroke="#fff" stroke-width="1.0" paint-order="fill stroke">1000</text>
<text transform="translate(1216.0 1305.1) scale(1 1.048)" font-size="81.5" text-anchor="middle" stroke="#fff" stroke-width="1.0" paint-order="fill stroke">1400</text>
<text transform="translate(1518.3 1305.1) scale(1 1.048)" font-size="81.5" text-anchor="middle" stroke="#fff" stroke-width="1.0" paint-order="fill stroke">1800</text>
<text transform="translate(1820.6 1305.1) scale(1 1.048)" font-size="81.5" text-anchor="middle" stroke="#fff" stroke-width="1.0" paint-order="fill stroke">2200</text>
<text transform="translate(2122.9 1305.1) scale(1 1.048)" font-size="81.5" text-anchor="middle" stroke="#fff" stroke-width="1.0" paint-order="fill stroke">2600</text>
<text transform="translate(1215.8 1413.4) scale(1 1.010)" font-size="80.8" text-anchor="middle" stroke="#fff" stroke-width="1.0" paint-order="fill stroke">Wavelength (nm)</text>
<text transform="translate(101.4 618.8) rotate(-90) scale(1 1.000)" font-size="81.7" text-anchor="middle" stroke="#fff" stroke-width="1.0" paint-order="fill stroke">Reflectance</text>
</g>
</svg>
</body>
</html>
